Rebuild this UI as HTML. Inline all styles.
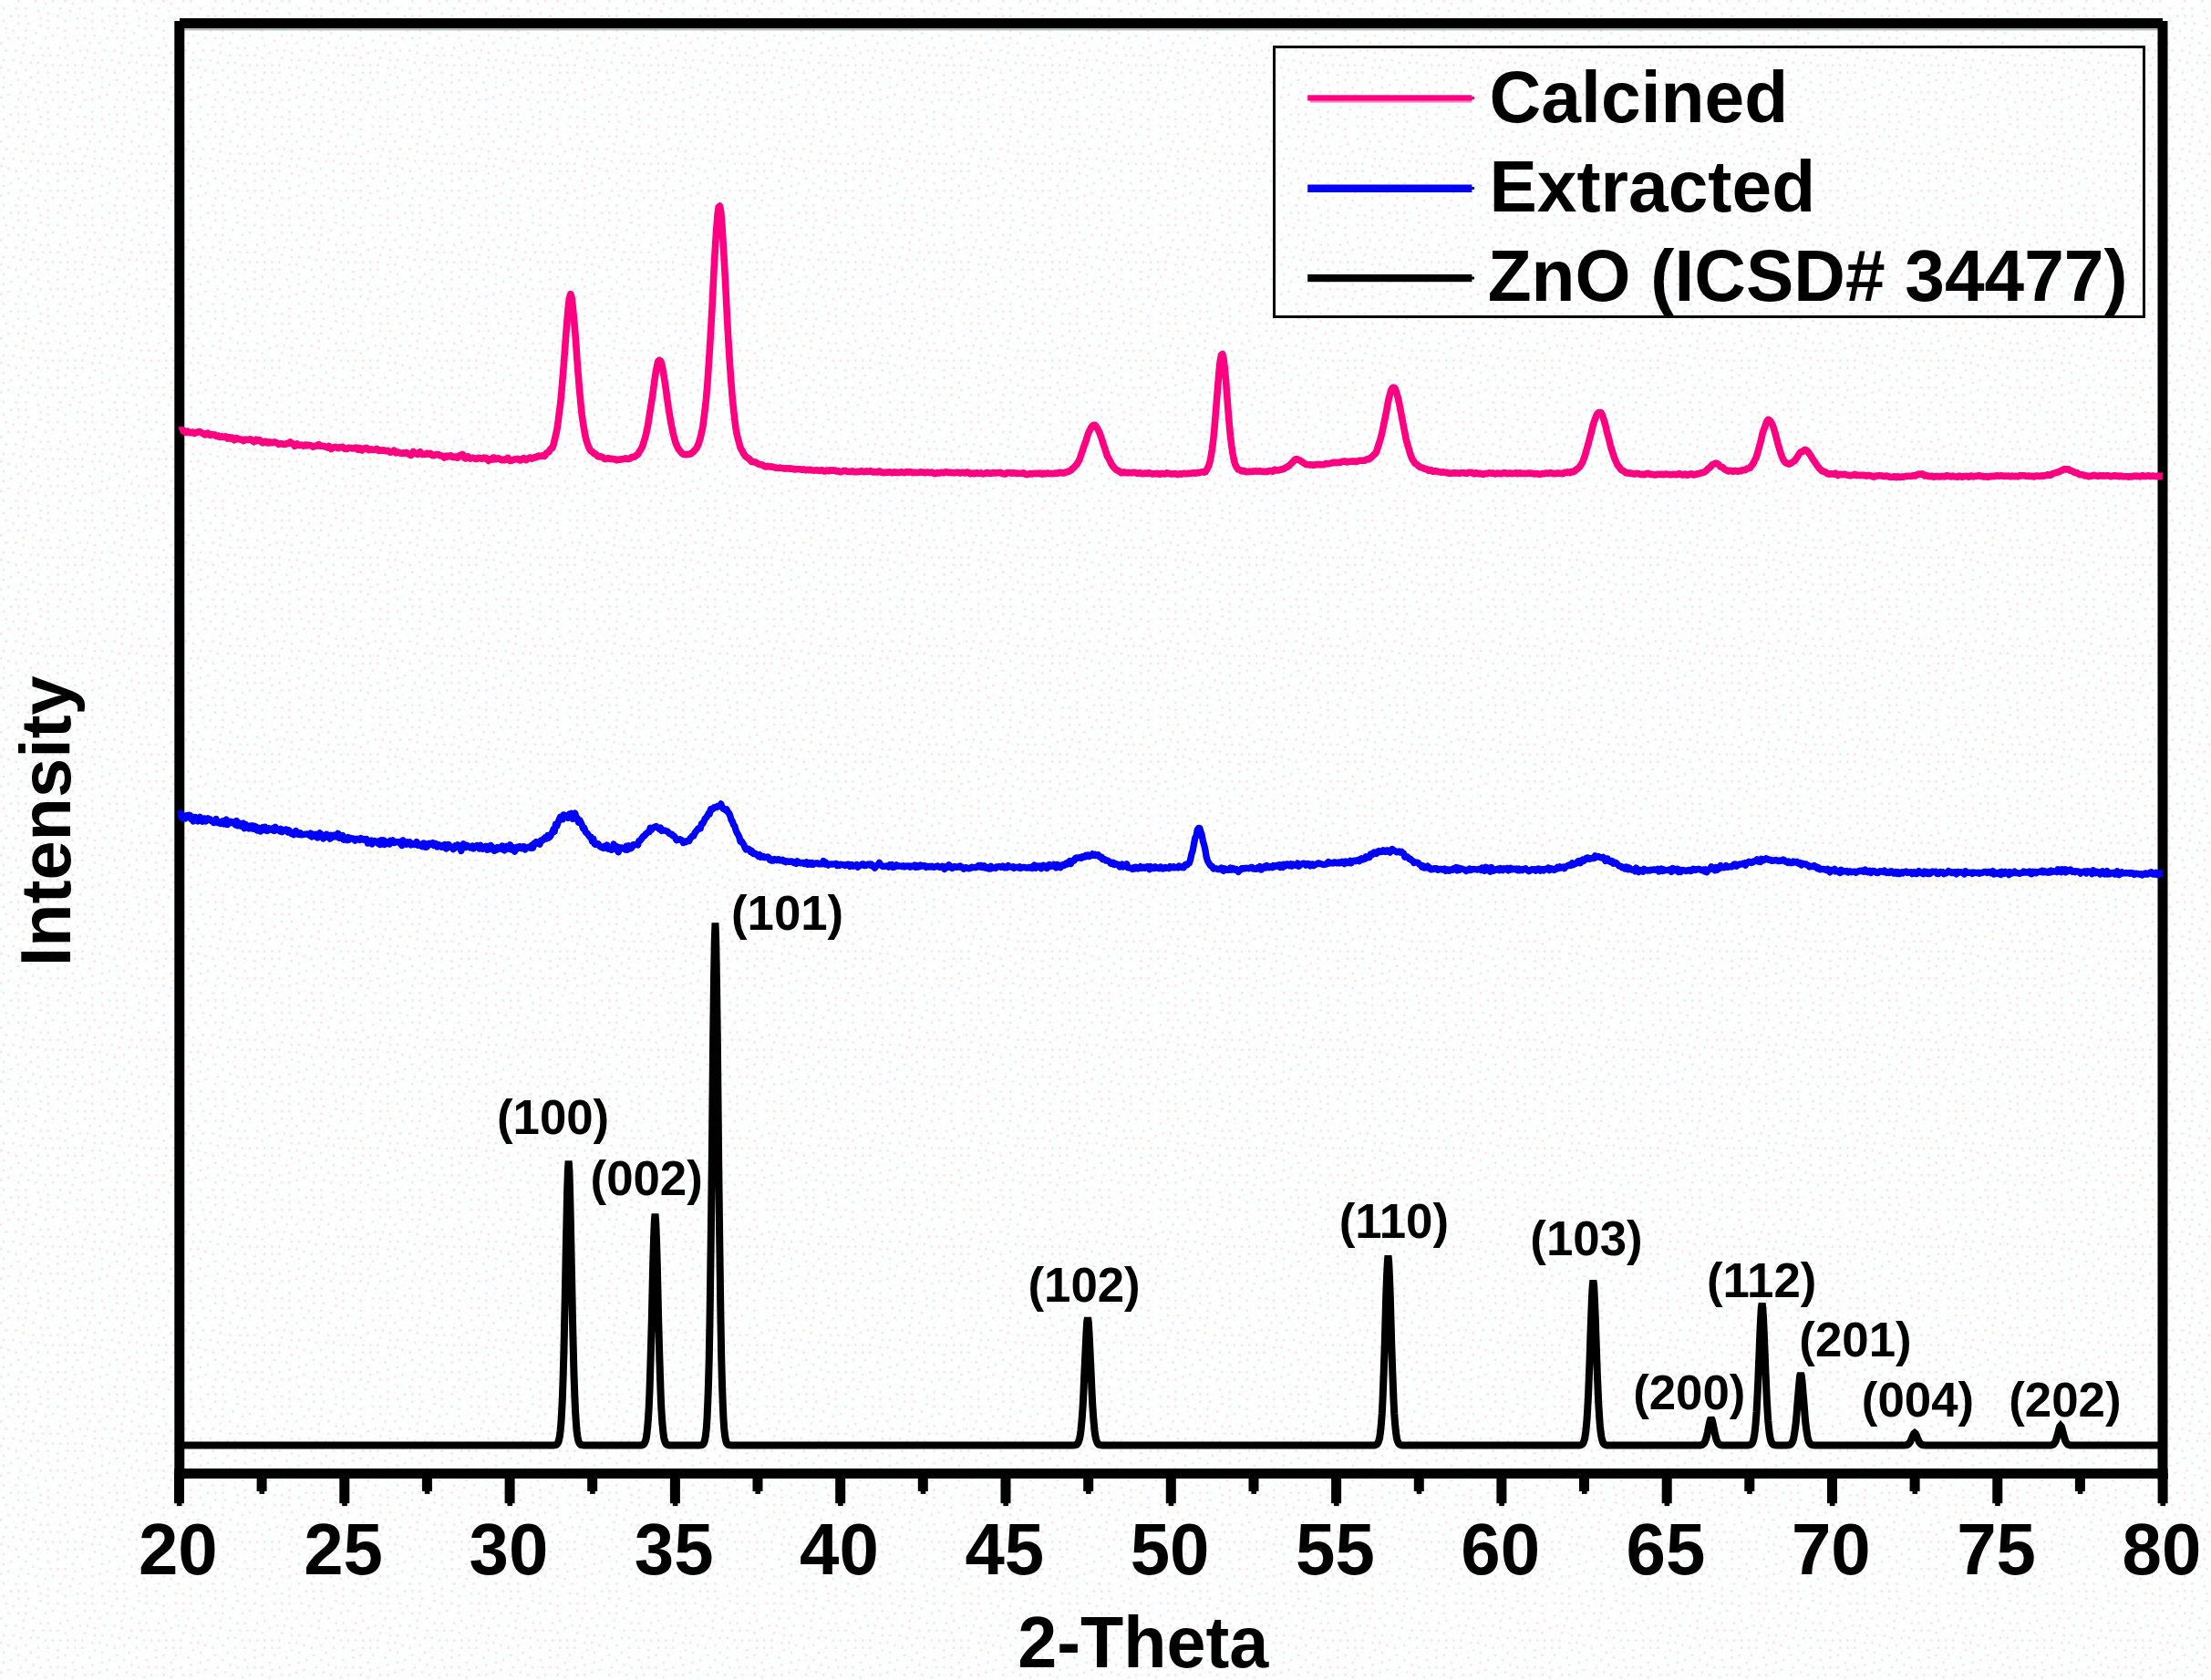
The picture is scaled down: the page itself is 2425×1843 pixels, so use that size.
<!DOCTYPE html>
<html lang="en">
<head>
<meta charset="utf-8">
<title>XRD patterns: Calcined, Extracted, ZnO (ICSD# 34477)</title>
<style>
html,body{margin:0;padding:0;background:#ffffff;}
body{width:2425px;height:1843px;overflow:hidden;}
svg{display:block;}
svg text{font-family:"Liberation Sans",sans-serif;font-weight:700;fill:#000;}
.tick text{font-size:80px;text-anchor:middle;}
.hkl text{font-size:52.8px;text-anchor:middle;}
.legend text{font-size:79.5px;}
.axis-title{font-size:77.6px;text-anchor:middle;}
.curve{fill:none;stroke-linejoin:round;stroke-linecap:butt;}
</style>
</head>
<body>
<svg width="2425" height="1843" viewBox="0 0 2425 1843">
<defs><pattern id="dither" width="108" height="108" patternUnits="userSpaceOnUse"><rect x="86.4" y="8.1" width="2.7" height="2.7" fill="#ffe4e4"/><rect x="18.9" y="24.3" width="2.7" height="2.7" fill="#ffe4e4"/><rect x="18.9" y="86.4" width="2.7" height="2.7" fill="#ffe4e4"/><rect x="91.8" y="62.1" width="2.7" height="2.7" fill="#ffe4e4"/><rect x="2.7" y="8.1" width="2.7" height="2.7" fill="#ffe4e4"/><rect x="35.1" y="45.9" width="2.7" height="2.7" fill="#ffe4e4"/><rect x="64.8" y="51.3" width="2.7" height="2.7" fill="#ffe4e4"/><rect x="27.0" y="16.2" width="2.7" height="2.7" fill="#ffe4e4"/><rect x="72.9" y="78.3" width="2.7" height="2.7" fill="#ffe4e4"/><rect x="48.6" y="40.5" width="2.7" height="2.7" fill="#ffe4e4"/><rect x="94.5" y="54.0" width="2.7" height="2.7" fill="#ffe4e4"/><rect x="70.2" y="62.1" width="2.7" height="2.7" fill="#ffe4e4"/><rect x="16.2" y="78.3" width="2.7" height="2.7" fill="#ffe4e4"/><rect x="81.0" y="102.6" width="2.7" height="2.7" fill="#ffe4e4"/><rect x="83.7" y="29.7" width="2.7" height="2.7" fill="#ffe4e4"/><rect x="32.4" y="67.5" width="2.7" height="2.7" fill="#ffe4e4"/><rect x="91.8" y="29.7" width="2.7" height="2.7" fill="#ffe4e4"/><rect x="99.9" y="0.0" width="2.7" height="2.7" fill="#ffe4e4"/><rect x="8.1" y="102.6" width="2.7" height="2.7" fill="#ffe4e4"/><rect x="99.9" y="29.7" width="2.7" height="2.7" fill="#ffe4e4"/><rect x="13.5" y="32.4" width="2.7" height="2.7" fill="#ffe4e4"/><rect x="2.7" y="94.5" width="2.7" height="2.7" fill="#ffe4e4"/><rect x="24.3" y="48.6" width="2.7" height="2.7" fill="#ffe4e4"/><rect x="48.6" y="2.7" width="2.7" height="2.7" fill="#ffe4e4"/><rect x="27.0" y="75.6" width="2.7" height="2.7" fill="#ffe4e4"/><rect x="27.0" y="8.1" width="2.7" height="2.7" fill="#ffe4e4"/><rect x="64.8" y="70.2" width="2.7" height="2.7" fill="#ffe4e4"/><rect x="54.0" y="99.9" width="2.7" height="2.7" fill="#ffe4e4"/><rect x="99.9" y="21.6" width="2.7" height="2.7" fill="#ffe4e4"/><rect x="51.3" y="78.3" width="2.7" height="2.7" fill="#ffe4e4"/><rect x="70.2" y="21.6" width="2.7" height="2.7" fill="#ffe4e4"/><rect x="40.5" y="89.1" width="2.7" height="2.7" fill="#ffe4e4"/><rect x="89.1" y="70.2" width="2.7" height="2.7" fill="#ffe4e4"/><rect x="0.0" y="72.9" width="2.7" height="2.7" fill="#ffe4e4"/><rect x="97.2" y="45.9" width="2.7" height="2.7" fill="#ffe4e4"/><rect x="102.6" y="81.0" width="2.7" height="2.7" fill="#ffe4e4"/><rect x="40.5" y="10.8" width="2.7" height="2.7" fill="#ffe4e4"/><rect x="62.1" y="89.1" width="2.7" height="2.7" fill="#ffe4e4"/><rect x="70.2" y="40.5" width="2.7" height="2.7" fill="#ffe4e4"/><rect x="54.0" y="59.4" width="2.7" height="2.7" fill="#ffe4e4"/><rect x="13.5" y="64.8" width="2.7" height="2.7" fill="#ffe4e4"/><rect x="83.7" y="18.9" width="2.7" height="2.7" fill="#ffe4e4"/><rect x="35.1" y="59.4" width="2.7" height="2.7" fill="#ffe4e4"/><rect x="99.9" y="97.2" width="2.7" height="2.7" fill="#ffe4e4"/><rect x="51.3" y="21.6" width="2.7" height="2.7" fill="#ffe4e4"/><rect x="27.0" y="91.8" width="2.7" height="2.7" fill="#ffe4e4"/><rect x="62.1" y="16.2" width="2.7" height="2.7" fill="#ffe4e4"/><rect x="102.6" y="64.8" width="2.7" height="2.7" fill="#ffe4e4"/><rect x="56.7" y="37.8" width="2.7" height="2.7" fill="#ffe4e4"/><rect x="51.3" y="13.5" width="2.7" height="2.7" fill="#ffe4e4"/><rect x="5.4" y="29.7" width="2.7" height="2.7" fill="#ffe4e4"/><rect x="43.2" y="51.3" width="2.7" height="2.7" fill="#ffe4e4"/><rect x="2.7" y="21.6" width="2.7" height="2.7" fill="#ffe4e4"/><rect x="78.3" y="56.7" width="2.7" height="2.7" fill="#ffe4e4"/><rect x="5.4" y="54.0" width="2.7" height="2.7" fill="#ffe4e4"/><rect x="102.6" y="56.7" width="2.7" height="2.7" fill="#ffe4e4"/><rect x="70.2" y="0.0" width="2.7" height="2.7" fill="#ffe4e4"/><rect x="8.1" y="40.5" width="2.7" height="2.7" fill="#ffe4e4"/><rect x="51.3" y="51.3" width="2.7" height="2.7" fill="#ffe4e4"/><rect x="89.1" y="78.3" width="2.7" height="2.7" fill="#ffe4e4"/><rect x="43.2" y="27.0" width="2.7" height="2.7" fill="#ffe4e4"/><rect x="75.6" y="10.8" width="2.7" height="2.7" fill="#ffe4e4"/><rect x="10.8" y="16.2" width="2.7" height="2.7" fill="#ffe4e4"/><rect x="89.1" y="99.9" width="2.7" height="2.7" fill="#ffe4e4"/><rect x="37.8" y="35.1" width="2.7" height="2.7" fill="#ffe4e4"/><rect x="29.7" y="24.3" width="2.7" height="2.7" fill="#ffe4e4"/><rect x="70.2" y="99.9" width="2.7" height="2.7" fill="#ffe4e4"/><rect x="99.9" y="13.5" width="2.7" height="2.7" fill="#ffe4e4"/><rect x="83.7" y="43.2" width="2.7" height="2.7" fill="#ffe4e4"/><rect x="37.8" y="0.0" width="2.7" height="2.7" fill="#ffe4e4"/><rect x="97.2" y="89.1" width="2.7" height="2.7" fill="#ffe4e4"/><rect x="91.8" y="37.8" width="2.7" height="2.7" fill="#ffe4e4"/><rect x="2.7" y="83.7" width="2.7" height="2.7" fill="#ffe4e4"/><rect x="10.8" y="91.8" width="2.7" height="2.7" fill="#ffe4e4"/><rect x="48.6" y="70.2" width="2.7" height="2.7" fill="#ffe4e4"/><rect x="24.3" y="56.7" width="2.7" height="2.7" fill="#ffe4e4"/><rect x="51.3" y="91.8" width="2.7" height="2.7" fill="#ffe4e4"/><rect x="40.5" y="67.5" width="2.7" height="2.7" fill="#ffe4e4"/><rect x="81.0" y="70.2" width="2.7" height="2.7" fill="#ffe4e4"/><rect x="56.7" y="0.0" width="2.7" height="2.7" fill="#ffe4e4"/><rect x="70.2" y="86.4" width="2.7" height="2.7" fill="#ffe4e4"/><rect x="62.1" y="29.7" width="2.7" height="2.7" fill="#ffe4e4"/><rect x="102.6" y="37.8" width="2.7" height="2.7" fill="#ffe4e4"/><rect x="18.9" y="0.0" width="2.7" height="2.7" fill="#ffe4e4"/><rect x="43.2" y="18.9" width="2.7" height="2.7" fill="#ffe4e4"/><rect x="83.7" y="86.4" width="2.7" height="2.7" fill="#ffe4e4"/><rect x="21.6" y="99.9" width="2.7" height="2.7" fill="#ffe4e4"/><rect x="91.8" y="18.9" width="2.7" height="2.7" fill="#ffe4e4"/><rect x="43.2" y="99.9" width="2.7" height="2.7" fill="#ffe4e4"/><rect x="2.7" y="64.8" width="2.7" height="2.7" fill="#ffe4e4"/><rect x="62.1" y="81.0" width="2.7" height="2.7" fill="#ffe4e4"/><rect x="16.2" y="8.1" width="2.7" height="2.7" fill="#ffe4e4"/><rect x="16.2" y="54.0" width="2.7" height="2.7" fill="#ffe4e4"/><rect x="8.1" y="75.6" width="2.7" height="2.7" fill="#ffe4e4"/><rect x="78.3" y="94.5" width="2.7" height="2.7" fill="#ffe4e4"/><rect x="29.7" y="105.3" width="2.7" height="2.7" fill="#ffe4e4"/><rect x="18.9" y="40.5" width="2.7" height="2.7" fill="#ffe4e4"/><rect x="27.0" y="32.4" width="2.7" height="2.7" fill="#ffe4e4"/><rect x="40.5" y="78.3" width="2.7" height="2.7" fill="#ffe4e4"/><rect x="0.0" y="105.3" width="2.7" height="2.7" fill="#ffe4e4"/><rect x="0.0" y="45.9" width="2.7" height="2.7" fill="#ffe4e4"/><rect x="70.2" y="32.4" width="2.7" height="2.7" fill="#ffe4e4"/><rect x="64.8" y="8.1" width="2.7" height="2.7" fill="#ffe4e4"/><rect x="21.6" y="67.5" width="2.7" height="2.7" fill="#ffe4e4"/><rect x="81.0" y="78.3" width="2.7" height="2.7" fill="#ffe4e4"/><rect x="72.9" y="48.6" width="2.7" height="2.7" fill="#ffe4e4"/><rect x="78.3" y="2.7" width="2.7" height="2.7" fill="#ffe4e4"/><rect x="45.9" y="59.4" width="2.7" height="2.7" fill="#ffe4e4"/><rect x="62.1" y="99.9" width="2.7" height="2.7" fill="#ffe4e4"/><rect x="86.4" y="54.0" width="2.7" height="2.7" fill="#ffe4e4"/><rect x="32.4" y="83.7" width="2.7" height="2.7" fill="#ffe4e4"/><rect x="27.0" y="40.5" width="2.7" height="2.7" fill="#ffe4e4"/><rect x="99.9" y="72.9" width="2.7" height="2.7" fill="#ffe4e4"/><rect x="91.8" y="0.0" width="2.7" height="2.7" fill="#ffe4e4"/><rect x="51.3" y="29.7" width="2.7" height="2.7" fill="#ffe4e4"/><rect x="62.1" y="59.4" width="2.7" height="2.7" fill="#ffe4e4"/><rect x="56.7" y="70.2" width="2.7" height="2.7" fill="#ffe4e4"/><rect x="35.1" y="97.2" width="2.7" height="2.7" fill="#ffe4e4"/><rect x="72.9" y="70.2" width="2.7" height="2.7" fill="#ffe4e4"/><rect x="18.9" y="16.2" width="2.7" height="2.7" fill="#ffe4e4"/><rect x="0.0" y="13.5" width="2.7" height="2.7" fill="#f1ffff"/><rect x="37.8" y="83.7" width="2.7" height="2.7" fill="#f1ffff"/><rect x="86.4" y="35.1" width="2.7" height="2.7" fill="#f1ffff"/><rect x="102.6" y="51.3" width="2.7" height="2.7" fill="#f1ffff"/><rect x="16.2" y="13.5" width="2.7" height="2.7" fill="#f1ffff"/><rect x="62.1" y="0.0" width="2.7" height="2.7" fill="#f1ffff"/><rect x="21.6" y="97.2" width="2.7" height="2.7" fill="#f1ffff"/><rect x="97.2" y="10.8" width="2.7" height="2.7" fill="#f1ffff"/><rect x="32.4" y="105.3" width="2.7" height="2.7" fill="#f1ffff"/><rect x="56.7" y="21.6" width="2.7" height="2.7" fill="#f1ffff"/><rect x="43.2" y="48.6" width="2.7" height="2.7" fill="#f1ffff"/><rect x="13.5" y="35.1" width="2.7" height="2.7" fill="#f1ffff"/><rect x="18.9" y="67.5" width="2.7" height="2.7" fill="#f1ffff"/><rect x="29.7" y="75.6" width="2.7" height="2.7" fill="#f1ffff"/><rect x="62.1" y="27.0" width="2.7" height="2.7" fill="#f1ffff"/><rect x="102.6" y="91.8" width="2.7" height="2.7" fill="#f1ffff"/><rect x="86.4" y="13.5" width="2.7" height="2.7" fill="#f1ffff"/><rect x="59.4" y="64.8" width="2.7" height="2.7" fill="#f1ffff"/><rect x="27.0" y="21.6" width="2.7" height="2.7" fill="#f1ffff"/><rect x="10.8" y="21.6" width="2.7" height="2.7" fill="#f1ffff"/><rect x="99.9" y="24.3" width="2.7" height="2.7" fill="#f1ffff"/><rect x="81.0" y="27.0" width="2.7" height="2.7" fill="#f1ffff"/><rect x="97.2" y="48.6" width="2.7" height="2.7" fill="#f1ffff"/><rect x="51.3" y="67.5" width="2.7" height="2.7" fill="#f1ffff"/><rect x="24.3" y="40.5" width="2.7" height="2.7" fill="#f1ffff"/><rect x="27.0" y="13.5" width="2.7" height="2.7" fill="#f1ffff"/><rect x="18.9" y="43.2" width="2.7" height="2.7" fill="#f1ffff"/><rect x="72.9" y="64.8" width="2.7" height="2.7" fill="#f1ffff"/><rect x="37.8" y="10.8" width="2.7" height="2.7" fill="#f1ffff"/><rect x="72.9" y="105.3" width="2.7" height="2.7" fill="#f1ffff"/><rect x="40.5" y="35.1" width="2.7" height="2.7" fill="#f1ffff"/><rect x="43.2" y="16.2" width="2.7" height="2.7" fill="#f1ffff"/><rect x="13.5" y="105.3" width="2.7" height="2.7" fill="#f1ffff"/><rect x="94.5" y="32.4" width="2.7" height="2.7" fill="#f1ffff"/><rect x="43.2" y="59.4" width="2.7" height="2.7" fill="#f1ffff"/><rect x="0.0" y="78.3" width="2.7" height="2.7" fill="#f1ffff"/><rect x="72.9" y="29.7" width="2.7" height="2.7" fill="#f1ffff"/><rect x="0.0" y="102.6" width="2.7" height="2.7" fill="#f1ffff"/><rect x="40.5" y="75.6" width="2.7" height="2.7" fill="#f1ffff"/><rect x="86.4" y="94.5" width="2.7" height="2.7" fill="#f1ffff"/><rect x="21.6" y="78.3" width="2.7" height="2.7" fill="#f1ffff"/><rect x="94.5" y="94.5" width="2.7" height="2.7" fill="#f1ffff"/><rect x="105.3" y="29.7" width="2.7" height="2.7" fill="#f1ffff"/><rect x="89.1" y="43.2" width="2.7" height="2.7" fill="#f1ffff"/><rect x="18.9" y="8.1" width="2.7" height="2.7" fill="#f1ffff"/><rect x="67.5" y="70.2" width="2.7" height="2.7" fill="#f1ffff"/><rect x="70.2" y="78.3" width="2.7" height="2.7" fill="#f1ffff"/><rect x="102.6" y="105.3" width="2.7" height="2.7" fill="#f1ffff"/><rect x="102.6" y="67.5" width="2.7" height="2.7" fill="#f1ffff"/><rect x="48.6" y="29.7" width="2.7" height="2.7" fill="#f1ffff"/><rect x="75.6" y="59.4" width="2.7" height="2.7" fill="#f1ffff"/><rect x="13.5" y="27.0" width="2.7" height="2.7" fill="#f1ffff"/><rect x="35.1" y="32.4" width="2.7" height="2.7" fill="#f1ffff"/><rect x="56.7" y="102.6" width="2.7" height="2.7" fill="#f1ffff"/><rect x="10.8" y="43.2" width="2.7" height="2.7" fill="#f1ffff"/><rect x="29.7" y="51.3" width="2.7" height="2.7" fill="#f1ffff"/><rect x="10.8" y="89.1" width="2.7" height="2.7" fill="#f1ffff"/><rect x="29.7" y="8.1" width="2.7" height="2.7" fill="#f1ffff"/><rect x="72.9" y="94.5" width="2.7" height="2.7" fill="#f1ffff"/><rect x="51.3" y="83.7" width="2.7" height="2.7" fill="#f1ffff"/><rect x="75.6" y="72.9" width="2.7" height="2.7" fill="#f1ffff"/><rect x="54.0" y="94.5" width="2.7" height="2.7" fill="#f1ffff"/><rect x="75.6" y="35.1" width="2.7" height="2.7" fill="#f1ffff"/><rect x="18.9" y="54.0" width="2.7" height="2.7" fill="#f1ffff"/><rect x="2.7" y="62.1" width="2.7" height="2.7" fill="#f1ffff"/><rect x="8.1" y="5.4" width="2.7" height="2.7" fill="#f1ffff"/><rect x="45.9" y="72.9" width="2.7" height="2.7" fill="#f1ffff"/><rect x="37.8" y="51.3" width="2.7" height="2.7" fill="#f1ffff"/><rect x="94.5" y="72.9" width="2.7" height="2.7" fill="#f1ffff"/><rect x="27.0" y="29.7" width="2.7" height="2.7" fill="#f1ffff"/><rect x="0.0" y="37.8" width="2.7" height="2.7" fill="#f1ffff"/><rect x="86.4" y="59.4" width="2.7" height="2.7" fill="#f1ffff"/><rect x="21.6" y="32.4" width="2.7" height="2.7" fill="#f1ffff"/><rect x="99.9" y="16.2" width="2.7" height="2.7" fill="#f1ffff"/><rect x="86.4" y="78.3" width="2.7" height="2.7" fill="#f1ffff"/><rect x="64.8" y="18.9" width="2.7" height="2.7" fill="#f1ffff"/><rect x="67.5" y="40.5" width="2.7" height="2.7" fill="#f1ffff"/><rect x="35.1" y="21.6" width="2.7" height="2.7" fill="#f1ffff"/><rect x="8.1" y="54.0" width="2.7" height="2.7" fill="#f1ffff"/><rect x="35.1" y="72.9" width="2.7" height="2.7" fill="#f1ffff"/><rect x="105.3" y="59.4" width="2.7" height="2.7" fill="#f1ffff"/><rect x="91.8" y="99.9" width="2.7" height="2.7" fill="#f1ffff"/><rect x="29.7" y="59.4" width="2.7" height="2.7" fill="#f1ffff"/><rect x="5.4" y="35.1" width="2.7" height="2.7" fill="#f1ffff"/><rect x="40.5" y="105.3" width="2.7" height="2.7" fill="#f1ffff"/><rect x="51.3" y="75.6" width="2.7" height="2.7" fill="#f1ffff"/><rect x="56.7" y="86.4" width="2.7" height="2.7" fill="#f1ffff"/><rect x="16.2" y="86.4" width="2.7" height="2.7" fill="#f1ffff"/><rect x="89.1" y="24.3" width="2.7" height="2.7" fill="#f1ffff"/><rect x="2.7" y="43.2" width="2.7" height="2.7" fill="#f1ffff"/><rect x="59.4" y="48.6" width="2.7" height="2.7" fill="#f1ffff"/><rect x="27.0" y="64.8" width="2.7" height="2.7" fill="#f1ffff"/><rect x="32.4" y="37.8" width="2.7" height="2.7" fill="#f1ffff"/><rect x="51.3" y="5.4" width="2.7" height="2.7" fill="#f1ffff"/><rect x="54.0" y="56.7" width="2.7" height="2.7" fill="#f1ffff"/><rect x="62.1" y="94.5" width="2.7" height="2.7" fill="#f1ffff"/><rect x="83.7" y="8.1" width="2.7" height="2.7" fill="#f1ffff"/><rect x="75.6" y="81.0" width="2.7" height="2.7" fill="#f1ffff"/><rect x="48.6" y="54.0" width="2.7" height="2.7" fill="#f1ffff"/><rect x="102.6" y="40.5" width="2.7" height="2.7" fill="#f1ffff"/><rect x="89.1" y="64.8" width="2.7" height="2.7" fill="#f1ffff"/><rect x="97.2" y="83.7" width="2.7" height="2.7" fill="#f1ffff"/><rect x="81.0" y="37.8" width="2.7" height="2.7" fill="#f1ffff"/><rect x="2.7" y="51.3" width="2.7" height="2.7" fill="#f1ffff"/><rect x="89.1" y="2.7" width="2.7" height="2.7" fill="#f1ffff"/><rect x="62.1" y="8.1" width="2.7" height="2.7" fill="#f1ffff"/><rect x="99.9" y="2.7" width="2.7" height="2.7" fill="#f1ffff"/><rect x="27.0" y="81.0" width="2.7" height="2.7" fill="#f1ffff"/><rect x="75.6" y="21.6" width="2.7" height="2.7" fill="#f1ffff"/><rect x="59.4" y="81.0" width="2.7" height="2.7" fill="#f1ffff"/><rect x="67.5" y="54.0" width="2.7" height="2.7" fill="#f1ffff"/><rect x="83.7" y="70.2" width="2.7" height="2.7" fill="#f1ffff"/><rect x="105.3" y="45.9" width="2.7" height="2.7" fill="#f1ffff"/><rect x="35.1" y="64.8" width="2.7" height="2.7" fill="#f1ffff"/><rect x="35.1" y="94.5" width="2.7" height="2.7" fill="#f1ffff"/><rect x="40.5" y="97.2" width="2.7" height="2.7" fill="#f1ffff"/><rect x="35.1" y="43.2" width="2.7" height="2.7" fill="#f1ffff"/><rect x="18.9" y="18.9" width="2.7" height="2.7" fill="#f1ffff"/><rect x="83.7" y="21.6" width="2.7" height="2.7" fill="#f1ffff"/><rect x="5.4" y="24.3" width="2.7" height="2.7" fill="#f1ffff"/><rect x="102.6" y="75.6" width="2.7" height="2.7" fill="#f1ffff"/><rect x="94.5" y="56.7" width="2.7" height="2.7" fill="#f1ffff"/><rect x="21.6" y="2.7" width="2.7" height="2.7" fill="#f1ffff"/><rect x="97.2" y="37.8" width="2.7" height="2.7" fill="#f1ffff"/><rect x="72.9" y="45.9" width="2.7" height="2.7" fill="#f1ffff"/><rect x="54.0" y="35.1" width="2.7" height="2.7" fill="#f1ffff"/><rect x="5.4" y="72.9" width="2.7" height="2.7" fill="#f1ffff"/><rect x="40.5" y="5.4" width="2.7" height="2.7" fill="#f1ffff"/><rect x="27.0" y="94.5" width="2.7" height="2.7" fill="#f1ffff"/><rect x="10.8" y="78.3" width="2.7" height="2.7" fill="#f1ffff"/><rect x="70.2" y="89.1" width="2.7" height="2.7" fill="#f1ffff"/><rect x="105.3" y="18.9" width="2.7" height="2.7" fill="#f1ffff"/><rect x="0.0" y="5.4" width="2.7" height="2.7" fill="#f1ffff"/><rect x="83.7" y="102.6" width="2.7" height="2.7" fill="#f1ffff"/><rect x="45.9" y="8.1" width="2.7" height="2.7" fill="#f1ffff"/><rect x="2.7" y="89.1" width="2.7" height="2.7" fill="#f1ffff"/><rect x="67.5" y="2.7" width="2.7" height="2.7" fill="#f1ffff"/><rect x="78.3" y="5.4" width="2.7" height="2.7" fill="#f1ffff"/><rect x="59.4" y="37.8" width="2.7" height="2.7" fill="#f1ffff"/><rect x="10.8" y="59.4" width="2.7" height="2.7" fill="#f1ffff"/><rect x="48.6" y="37.8" width="2.7" height="2.7" fill="#f1ffff"/><rect x="89.1" y="83.7" width="2.7" height="2.7" fill="#f1ffff"/><rect x="40.5" y="27.0" width="2.7" height="2.7" fill="#f1ffff"/><rect x="91.8" y="51.3" width="2.7" height="2.7" fill="#f1ffff"/><rect x="81.0" y="91.8" width="2.7" height="2.7" fill="#f1ffff"/><rect x="43.2" y="89.1" width="2.7" height="2.7" fill="#f1ffff"/><rect x="8.1" y="16.2" width="2.7" height="2.7" fill="#f1ffff"/><rect x="29.7" y="99.9" width="2.7" height="2.7" fill="#f1ffff"/><rect x="94.5" y="0.0" width="2.7" height="2.7" fill="#f1ffff"/><rect x="8.1" y="94.5" width="2.7" height="2.7" fill="#f1ffff"/><rect x="16.2" y="75.6" width="2.7" height="2.7" fill="#f1ffff"/><rect x="83.7" y="54.0" width="2.7" height="2.7" fill="#f1ffff"/><rect x="99.9" y="62.1" width="2.7" height="2.7" fill="#f1ffff"/><rect x="45.9" y="43.2" width="2.7" height="2.7" fill="#f1ffff"/><rect x="43.2" y="81.0" width="2.7" height="2.7" fill="#f1ffff"/><rect x="81.0" y="83.7" width="2.7" height="2.7" fill="#f1ffff"/><rect x="45.9" y="64.8" width="2.7" height="2.7" fill="#f1ffff"/><rect x="21.6" y="48.6" width="2.7" height="2.7" fill="#f1ffff"/><rect x="67.5" y="99.9" width="2.7" height="2.7" fill="#f1ffff"/><rect x="5.4" y="105.3" width="2.7" height="2.7" fill="#f1ffff"/><rect x="72.9" y="16.2" width="2.7" height="2.7" fill="#f1ffff"/><rect x="5.4" y="83.7" width="2.7" height="2.7" fill="#f1ffff"/><rect x="24.3" y="105.3" width="2.7" height="2.7" fill="#f1ffff"/><rect x="64.8" y="59.4" width="2.7" height="2.7" fill="#f1ffff"/><rect x="32.4" y="16.2" width="2.7" height="2.7" fill="#f1ffff"/><rect x="56.7" y="13.5" width="2.7" height="2.7" fill="#f1ffff"/><rect x="18.9" y="102.6" width="2.7" height="2.7" fill="#f1ffff"/><rect x="56.7" y="43.2" width="2.7" height="2.7" fill="#f1ffff"/><rect x="70.2" y="24.3" width="2.7" height="2.7" fill="#f1ffff"/><rect x="78.3" y="67.5" width="2.7" height="2.7" fill="#f1ffff"/><rect x="51.3" y="16.2" width="2.7" height="2.7" fill="#f1ffff"/><rect x="97.2" y="102.6" width="2.7" height="2.7" fill="#f1ffff"/><rect x="56.7" y="72.9" width="2.7" height="2.7" fill="#f1ffff"/><rect x="67.5" y="83.7" width="2.7" height="2.7" fill="#f1ffff"/><rect x="81.0" y="75.6" width="2.7" height="2.7" fill="#f1ffff"/><rect x="10.8" y="10.8" width="2.7" height="2.7" fill="#f1ffff"/><rect x="75.6" y="51.3" width="2.7" height="2.7" fill="#f1ffff"/><rect x="51.3" y="105.3" width="2.7" height="2.7" fill="#f1ffff"/><rect x="18.9" y="91.8" width="2.7" height="2.7" fill="#f1ffff"/><rect x="81.0" y="16.2" width="2.7" height="2.7" fill="#f1ffff"/><rect x="72.9" y="8.1" width="2.7" height="2.7" fill="#f1ffff"/><rect x="54.0" y="27.0" width="2.7" height="2.7" fill="#f1ffff"/><rect x="78.3" y="97.2" width="2.7" height="2.7" fill="#f1ffff"/><rect x="0.0" y="70.2" width="2.7" height="2.7" fill="#f1ffff"/><rect x="8.1" y="29.7" width="2.7" height="2.7" fill="#f1ffff"/><rect x="81.0" y="0.0" width="2.7" height="2.7" fill="#f1ffff"/><rect x="81.0" y="45.9" width="2.7" height="2.7" fill="#f1ffff"/><rect x="10.8" y="70.2" width="2.7" height="2.7" fill="#f1ffff"/><rect x="21.6" y="24.3" width="2.7" height="2.7" fill="#f1ffff"/><rect x="13.5" y="48.6" width="2.7" height="2.7" fill="#f1ffff"/><rect x="29.7" y="86.4" width="2.7" height="2.7" fill="#f1ffff"/><rect x="56.7" y="2.7" width="2.7" height="2.7" fill="#f1ffff"/><rect x="24.3" y="70.2" width="2.7" height="2.7" fill="#f1ffff"/><rect x="67.5" y="32.4" width="2.7" height="2.7" fill="#f1ffff"/><rect x="48.6" y="21.6" width="2.7" height="2.7" fill="#f1ffff"/><rect x="48.6" y="99.9" width="2.7" height="2.7" fill="#f1ffff"/><rect x="27.0" y="45.9" width="2.7" height="2.7" fill="#f1ffff"/><rect x="105.3" y="86.4" width="2.7" height="2.7" fill="#f1ffff"/><rect x="0.0" y="94.5" width="2.7" height="2.7" fill="#f1ffff"/><rect x="67.5" y="13.5" width="2.7" height="2.7" fill="#f1ffff"/><rect x="21.6" y="62.1" width="2.7" height="2.7" fill="#f1ffff"/><rect x="48.6" y="91.8" width="2.7" height="2.7" fill="#f1ffff"/><rect x="51.3" y="45.9" width="2.7" height="2.7" fill="#f1ffff"/><rect x="102.6" y="8.1" width="2.7" height="2.7" fill="#f1ffff"/><rect x="91.8" y="8.1" width="2.7" height="2.7" fill="#f1ffff"/><rect x="35.1" y="2.7" width="2.7" height="2.7" fill="#f1ffff"/><rect x="62.1" y="75.6" width="2.7" height="2.7" fill="#f1ffff"/><rect x="8.1" y="64.8" width="2.7" height="2.7" fill="#f1ffff"/><rect x="45.9" y="0.0" width="2.7" height="2.7" fill="#f1ffff"/><rect x="86.4" y="48.6" width="2.7" height="2.7" fill="#f1ffff"/><rect x="64.8" y="45.9" width="2.7" height="2.7" fill="#f1ffff"/><rect x="10.8" y="99.9" width="2.7" height="2.7" fill="#f1ffff"/><rect x="94.5" y="21.6" width="2.7" height="2.7" fill="#f1ffff"/><rect x="91.8" y="89.1" width="2.7" height="2.7" fill="#f1ffff"/><rect x="24.3" y="89.1" width="2.7" height="2.7" fill="#f1ffff"/></pattern></defs>
<rect x="0" y="0" width="2425" height="1843" fill="#ffffff"/>
<rect x="0" y="0" width="2425" height="1843" fill="url(#dither)"/>

<!-- plot frame -->
<g fill="#000">
<rect x="197" y="31" width="2170" height="2.4" fill="#b3baba"/>
<rect x="197" y="20" width="2175" height="11"/>
<rect x="191.3" y="23" width="11" height="1600"/>
<rect x="2366.5" y="23" width="11" height="1600"/>
<rect x="191.3" y="1611" width="2186.2" height="11"/>
<rect x="191.0" y="1616" width="11" height="33.2"/>
<rect x="193.9" y="1648.9" width="5.6" height="3.2"/>
<rect x="281.6" y="1616" width="11" height="20.0"/>
<rect x="284.5" y="1635.7" width="5.6" height="3.2"/>
<rect x="372.3" y="1616" width="11" height="33.2"/>
<rect x="375.2" y="1648.9" width="5.6" height="3.2"/>
<rect x="462.9" y="1616" width="11" height="20.0"/>
<rect x="465.8" y="1635.7" width="5.6" height="3.2"/>
<rect x="553.6" y="1616" width="11" height="33.2"/>
<rect x="556.5" y="1648.9" width="5.6" height="3.2"/>
<rect x="644.2" y="1616" width="11" height="20.0"/>
<rect x="647.1" y="1635.7" width="5.6" height="3.2"/>
<rect x="734.9" y="1616" width="11" height="33.2"/>
<rect x="737.8" y="1648.9" width="5.6" height="3.2"/>
<rect x="825.5" y="1616" width="11" height="20.0"/>
<rect x="828.4" y="1635.7" width="5.6" height="3.2"/>
<rect x="916.2" y="1616" width="11" height="33.2"/>
<rect x="919.1" y="1648.9" width="5.6" height="3.2"/>
<rect x="1006.8" y="1616" width="11" height="20.0"/>
<rect x="1009.7" y="1635.7" width="5.6" height="3.2"/>
<rect x="1097.5" y="1616" width="11" height="33.2"/>
<rect x="1100.4" y="1648.9" width="5.6" height="3.2"/>
<rect x="1188.2" y="1616" width="11" height="20.0"/>
<rect x="1191.1" y="1635.7" width="5.6" height="3.2"/>
<rect x="1278.8" y="1616" width="11" height="33.2"/>
<rect x="1281.7" y="1648.9" width="5.6" height="3.2"/>
<rect x="1369.5" y="1616" width="11" height="20.0"/>
<rect x="1372.4" y="1635.7" width="5.6" height="3.2"/>
<rect x="1460.1" y="1616" width="11" height="33.2"/>
<rect x="1463.0" y="1648.9" width="5.6" height="3.2"/>
<rect x="1550.8" y="1616" width="11" height="20.0"/>
<rect x="1553.7" y="1635.7" width="5.6" height="3.2"/>
<rect x="1641.4" y="1616" width="11" height="33.2"/>
<rect x="1644.3" y="1648.9" width="5.6" height="3.2"/>
<rect x="1732.0" y="1616" width="11" height="20.0"/>
<rect x="1735.0" y="1635.7" width="5.6" height="3.2"/>
<rect x="1822.7" y="1616" width="11" height="33.2"/>
<rect x="1825.6" y="1648.9" width="5.6" height="3.2"/>
<rect x="1913.3" y="1616" width="11" height="20.0"/>
<rect x="1916.2" y="1635.7" width="5.6" height="3.2"/>
<rect x="2004.0" y="1616" width="11" height="33.2"/>
<rect x="2006.9" y="1648.9" width="5.6" height="3.2"/>
<rect x="2094.6" y="1616" width="11" height="20.0"/>
<rect x="2097.5" y="1635.7" width="5.6" height="3.2"/>
<rect x="2185.3" y="1616" width="11" height="33.2"/>
<rect x="2188.2" y="1648.9" width="5.6" height="3.2"/>
<rect x="2275.9" y="1616" width="11" height="20.0"/>
<rect x="2278.8" y="1635.7" width="5.6" height="3.2"/>
<rect x="2366.6" y="1616" width="11" height="33.2"/>
<rect x="2369.5" y="1648.9" width="5.6" height="3.2"/>
</g>

<!-- reference pattern, ZnO -->
<path class="curve" d="M197.0 1585.5L601.6 1585.5L602.6 1585.5L603.4 1585.5L604.1 1585.5L604.9 1585.5L605.6 1585.5L606.4 1585.5L607.1 1585.5L607.9 1585.4L608.6 1585.3L609.4 1585.2L610.1 1584.9L610.9 1584.3L611.6 1583.4L612.4 1581.9L613.1 1579.4L613.9 1575.6L614.6 1569.7L615.4 1561.2L616.1 1549.1L616.9 1532.8L617.6 1511.4L618.4 1484.8L619.1 1453.1L619.9 1417.2L620.6 1379.1L621.4 1341.6L622.1 1308.4L622.9 1283.9L623.6 1273.5L624.4 1283.9L625.1 1308.4L625.9 1341.6L626.6 1379.1L627.4 1417.2L628.1 1453.1L628.9 1484.8L629.6 1511.4L630.4 1532.8L631.1 1549.1L631.9 1561.2L632.6 1569.7L633.4 1575.6L634.1 1579.4L634.9 1581.9L635.6 1583.4L636.4 1584.3L637.1 1584.9L637.9 1585.2L638.6 1585.3L639.4 1585.4L640.1 1585.5L640.9 1585.5L641.6 1585.5L642.4 1585.5L643.1 1585.5L643.9 1585.5L644.6 1585.5L645.6 1585.5L696.5 1585.5L697.5 1585.5L698.2 1585.5L699.0 1585.5L699.8 1585.5L700.5 1585.5L701.2 1585.5L702.0 1585.5L702.8 1585.4L703.5 1585.4L704.2 1585.2L705.0 1585.0L705.8 1584.5L706.5 1583.8L707.2 1582.6L708.0 1580.5L708.8 1577.4L709.5 1572.6L710.2 1565.7L711.0 1555.9L711.8 1542.6L712.5 1525.2L713.2 1503.5L714.0 1477.7L714.8 1448.5L715.5 1417.4L716.2 1386.9L717.0 1359.9L717.8 1340.0L718.5 1331.5L719.2 1340.0L720.0 1359.9L720.8 1386.9L721.5 1417.4L722.2 1448.5L723.0 1477.7L723.8 1503.5L724.5 1525.2L725.2 1542.6L726.0 1555.9L726.8 1565.7L727.5 1572.6L728.2 1577.4L729.0 1580.5L729.8 1582.6L730.5 1583.8L731.2 1584.5L732.0 1585.0L732.8 1585.2L733.5 1585.4L734.2 1585.4L735.0 1585.5L735.8 1585.5L736.5 1585.5L737.2 1585.5L738.0 1585.5L738.8 1585.5L739.5 1585.5L740.5 1585.5L762.5 1585.5L763.5 1585.5L764.2 1585.5L765.0 1585.5L765.8 1585.5L766.5 1585.5L767.2 1585.5L768.0 1585.4L768.8 1585.3L769.5 1585.2L770.2 1584.9L771.0 1584.3L771.8 1583.3L772.5 1581.7L773.2 1578.9L774.0 1574.3L774.8 1567.2L775.5 1556.5L776.2 1540.8L777.0 1518.7L777.8 1488.7L778.5 1449.5L779.2 1400.6L780.0 1342.3L780.8 1276.4L781.5 1206.4L782.2 1137.5L783.0 1076.6L783.8 1031.7L784.5 1012.5L785.2 1031.7L786.0 1076.6L786.8 1137.5L787.5 1206.4L788.2 1276.4L789.0 1342.3L789.8 1400.6L790.5 1449.5L791.2 1488.7L792.0 1518.7L792.8 1540.8L793.5 1556.5L794.2 1567.2L795.0 1574.3L795.8 1578.9L796.5 1581.7L797.2 1583.3L798.0 1584.3L798.8 1584.9L799.5 1585.2L800.2 1585.3L801.0 1585.4L801.8 1585.5L802.5 1585.5L803.2 1585.5L804.0 1585.5L804.8 1585.5L805.5 1585.5L806.5 1585.5L1171.0 1585.5L1172.0 1585.5L1172.8 1585.5L1173.5 1585.5L1174.2 1585.5L1175.0 1585.5L1175.8 1585.5L1176.5 1585.5L1177.2 1585.5L1178.0 1585.4L1178.8 1585.3L1179.5 1585.2L1180.2 1585.0L1181.0 1584.6L1181.8 1583.9L1182.5 1582.8L1183.2 1581.0L1184.0 1578.4L1184.8 1574.6L1185.5 1569.2L1186.2 1561.8L1187.0 1552.3L1187.8 1540.3L1188.5 1526.1L1189.2 1510.0L1190.0 1492.9L1190.8 1476.0L1191.5 1461.2L1192.2 1450.2L1193.0 1445.5L1193.8 1450.2L1194.5 1461.2L1195.2 1476.0L1196.0 1492.9L1196.8 1510.0L1197.5 1526.1L1198.2 1540.3L1199.0 1552.3L1199.8 1561.8L1200.5 1569.2L1201.2 1574.6L1202.0 1578.4L1202.8 1581.0L1203.5 1582.8L1204.2 1583.9L1205.0 1584.6L1205.8 1585.0L1206.5 1585.2L1207.2 1585.3L1208.0 1585.4L1208.8 1585.5L1209.5 1585.5L1210.2 1585.5L1211.0 1585.5L1211.8 1585.5L1212.5 1585.5L1213.2 1585.5L1214.0 1585.5L1215.0 1585.5L1500.5 1585.5L1501.5 1585.5L1502.2 1585.5L1503.0 1585.5L1503.8 1585.5L1504.5 1585.5L1505.2 1585.5L1506.0 1585.5L1506.8 1585.4L1507.5 1585.4L1508.2 1585.3L1509.0 1585.1L1509.8 1584.7L1510.5 1584.1L1511.2 1583.1L1512.0 1581.4L1512.8 1578.9L1513.5 1575.0L1514.2 1569.3L1515.0 1561.2L1515.8 1550.3L1516.5 1536.1L1517.2 1518.4L1518.0 1497.2L1518.8 1473.3L1519.5 1447.9L1520.2 1422.9L1521.0 1400.8L1521.8 1384.5L1522.5 1377.5L1523.2 1384.5L1524.0 1400.8L1524.8 1422.9L1525.5 1447.9L1526.2 1473.3L1527.0 1497.2L1527.8 1518.4L1528.5 1536.1L1529.2 1550.3L1530.0 1561.2L1530.8 1569.3L1531.5 1575.0L1532.2 1578.9L1533.0 1581.4L1533.8 1583.1L1534.5 1584.1L1535.2 1584.7L1536.0 1585.1L1536.8 1585.3L1537.5 1585.4L1538.2 1585.4L1539.0 1585.5L1539.8 1585.5L1540.5 1585.5L1541.2 1585.5L1542.0 1585.5L1542.8 1585.5L1543.5 1585.5L1544.5 1585.5L1725.4 1585.5L1726.4 1585.5L1727.2 1585.5L1727.9 1585.5L1728.7 1585.5L1729.4 1585.5L1730.2 1585.5L1730.9 1585.5L1731.7 1585.4L1732.4 1585.4L1733.2 1585.3L1733.9 1585.1L1734.7 1584.8L1735.4 1584.3L1736.2 1583.4L1736.9 1582.0L1737.7 1579.7L1738.4 1576.3L1739.2 1571.4L1739.9 1564.4L1740.7 1554.9L1741.4 1542.5L1742.2 1527.1L1742.9 1508.7L1743.7 1487.9L1744.4 1465.7L1745.2 1444.0L1745.9 1424.7L1746.7 1410.6L1747.4 1404.5L1748.2 1410.6L1748.9 1424.7L1749.7 1444.0L1750.4 1465.7L1751.2 1487.9L1751.9 1508.7L1752.7 1527.1L1753.4 1542.5L1754.2 1554.9L1754.9 1564.4L1755.7 1571.4L1756.4 1576.3L1757.2 1579.7L1757.9 1582.0L1758.7 1583.4L1759.4 1584.3L1760.2 1584.8L1760.9 1585.1L1761.7 1585.3L1762.4 1585.4L1763.2 1585.4L1763.9 1585.5L1764.7 1585.5L1765.4 1585.5L1766.2 1585.5L1766.9 1585.5L1767.7 1585.5L1768.4 1585.5L1769.4 1585.5L1854.7 1585.5L1855.7 1585.5L1856.5 1585.5L1857.2 1585.5L1858.0 1585.5L1858.7 1585.5L1859.5 1585.5L1860.2 1585.5L1861.0 1585.5L1861.7 1585.5L1862.5 1585.5L1863.2 1585.5L1864.0 1585.4L1864.7 1585.4L1865.5 1585.3L1866.2 1585.1L1867.0 1584.9L1867.7 1584.5L1868.5 1583.8L1869.2 1582.9L1870.0 1581.5L1870.7 1579.7L1871.5 1577.3L1872.2 1574.3L1873.0 1570.8L1873.7 1567.1L1874.5 1563.3L1875.2 1559.9L1876.0 1557.3L1876.7 1556.2L1877.5 1557.3L1878.2 1559.9L1879.0 1563.3L1879.7 1567.1L1880.5 1570.8L1881.2 1574.3L1882.0 1577.3L1882.7 1579.7L1883.5 1581.5L1884.2 1582.9L1885.0 1583.8L1885.7 1584.5L1886.5 1584.9L1887.2 1585.1L1888.0 1585.3L1888.7 1585.4L1889.5 1585.4L1890.2 1585.5L1891.0 1585.5L1891.7 1585.5L1892.5 1585.5L1893.2 1585.5L1894.0 1585.5L1894.7 1585.5L1895.5 1585.5L1896.2 1585.5L1897.0 1585.5L1897.7 1585.5L1898.7 1585.5L1910.6 1585.5L1911.6 1585.5L1912.3 1585.5L1913.1 1585.5L1913.8 1585.5L1914.6 1585.5L1915.3 1585.5L1916.1 1585.5L1916.8 1585.5L1917.6 1585.4L1918.3 1585.3L1919.1 1585.2L1919.8 1584.9L1920.6 1584.5L1921.3 1583.7L1922.1 1582.5L1922.8 1580.5L1923.6 1577.6L1924.3 1573.3L1925.1 1567.3L1925.8 1559.1L1926.6 1548.5L1927.3 1535.1L1928.1 1519.3L1928.8 1501.3L1929.6 1482.3L1930.3 1463.5L1931.1 1446.9L1931.8 1434.7L1932.6 1429.5L1933.3 1434.7L1934.1 1446.9L1934.8 1463.5L1935.6 1482.3L1936.3 1501.3L1937.1 1519.3L1937.8 1535.1L1938.6 1548.5L1939.3 1559.1L1940.1 1567.3L1940.8 1573.3L1941.6 1577.6L1942.3 1580.5L1943.1 1582.5L1943.8 1583.7L1944.6 1584.5L1945.3 1584.9L1946.1 1585.2L1946.8 1585.3L1947.6 1585.4L1948.3 1585.5L1949.1 1585.5L1949.8 1585.5L1950.6 1585.5L1951.3 1585.5L1952.1 1585.5L1952.8 1585.5L1953.0 1585.5L1953.6 1585.5L1954.0 1585.5L1954.6 1585.5L1954.8 1585.5L1955.5 1585.5L1956.2 1585.5L1957.0 1585.5L1957.8 1585.5L1958.5 1585.5L1959.2 1585.5L1960.0 1585.5L1960.8 1585.4L1961.5 1585.3L1962.2 1585.2L1963.0 1585.0L1963.8 1584.6L1964.5 1584.0L1965.2 1583.0L1966.0 1581.5L1966.8 1579.3L1967.5 1576.3L1968.2 1572.1L1969.0 1566.7L1969.8 1560.0L1970.5 1552.0L1971.2 1542.9L1972.0 1533.2L1972.8 1523.7L1973.5 1515.3L1974.2 1509.1L1975.0 1506.5L1975.8 1509.1L1976.5 1515.3L1977.2 1523.7L1978.0 1533.2L1978.8 1542.9L1979.5 1552.0L1980.2 1560.0L1981.0 1566.7L1981.8 1572.1L1982.5 1576.3L1983.2 1579.3L1984.0 1581.5L1984.8 1583.0L1985.5 1584.0L1986.2 1584.6L1987.0 1585.0L1987.8 1585.2L1988.5 1585.3L1989.2 1585.4L1990.0 1585.5L1990.8 1585.5L1991.5 1585.5L1992.2 1585.5L1993.0 1585.5L1993.8 1585.5L1994.5 1585.5L1995.2 1585.5L1996.0 1585.5L1997.0 1585.5L2078.0 1585.5L2079.0 1585.5L2079.8 1585.5L2080.5 1585.5L2081.2 1585.5L2082.0 1585.5L2082.8 1585.5L2083.5 1585.5L2084.2 1585.5L2085.0 1585.5L2085.8 1585.5L2086.5 1585.5L2087.2 1585.5L2088.0 1585.5L2088.8 1585.5L2089.5 1585.4L2090.2 1585.3L2091.0 1585.2L2091.8 1585.0L2092.5 1584.6L2093.2 1584.1L2094.0 1583.3L2094.8 1582.3L2095.5 1581.0L2096.2 1579.3L2097.0 1577.5L2097.8 1575.6L2098.5 1573.9L2099.2 1572.6L2100.0 1572.0L2100.8 1572.6L2101.5 1573.9L2102.2 1575.6L2103.0 1577.5L2103.8 1579.3L2104.5 1581.0L2105.2 1582.3L2106.0 1583.3L2106.8 1584.1L2107.5 1584.6L2108.2 1585.0L2109.0 1585.2L2109.8 1585.3L2110.5 1585.4L2111.2 1585.5L2112.0 1585.5L2112.8 1585.5L2113.5 1585.5L2114.2 1585.5L2115.0 1585.5L2115.8 1585.5L2116.5 1585.5L2117.2 1585.5L2118.0 1585.5L2118.8 1585.5L2119.5 1585.5L2120.2 1585.5L2121.0 1585.5L2122.0 1585.5L2238.0 1585.5L2239.0 1585.5L2239.8 1585.5L2240.5 1585.5L2241.2 1585.5L2242.0 1585.5L2242.8 1585.5L2243.5 1585.5L2244.2 1585.5L2245.0 1585.5L2245.8 1585.5L2246.5 1585.5L2247.2 1585.5L2248.0 1585.5L2248.8 1585.4L2249.5 1585.4L2250.2 1585.2L2251.0 1585.0L2251.8 1584.7L2252.5 1584.1L2253.2 1583.3L2254.0 1582.1L2254.8 1580.4L2255.5 1578.3L2256.2 1575.7L2257.0 1572.8L2257.8 1569.8L2258.5 1567.1L2259.2 1565.0L2260.0 1564.1L2260.8 1565.0L2261.5 1567.1L2262.2 1569.8L2263.0 1572.8L2263.8 1575.7L2264.5 1578.3L2265.2 1580.4L2266.0 1582.1L2266.8 1583.3L2267.5 1584.1L2268.2 1584.7L2269.0 1585.0L2269.8 1585.2L2270.5 1585.4L2271.2 1585.4L2272.0 1585.5L2272.8 1585.5L2273.5 1585.5L2274.2 1585.5L2275.0 1585.5L2275.8 1585.5L2276.5 1585.5L2277.2 1585.5L2278.0 1585.5L2278.8 1585.5L2279.5 1585.5L2280.2 1585.5L2281.0 1585.5L2282.0 1585.5L2372.0 1585.5" stroke="#000" stroke-width="8" style="stroke-linejoin:miter;stroke-miterlimit:1.6"/>
<!-- extracted sample -->
<path class="curve" d="M197.0 893.8L198.2 892.3L199.5 897.3L200.8 897.4L202.0 897.1L203.2 897.9L204.5 894.7L205.8 896.1L207.0 894.2L208.2 894.4L209.5 898.5L210.8 896.0L212.0 901.0L213.2 897.6L214.5 896.6L215.8 899.2L217.0 901.0L218.2 899.0L219.5 896.4L220.8 899.2L222.0 901.1L223.2 898.2L224.5 897.9L225.8 901.0L227.0 899.8L228.2 897.9L229.5 899.3L230.8 898.9L232.0 900.8L233.2 900.7L234.5 902.6L235.8 902.0L237.0 898.5L238.2 901.9L239.5 902.9L240.8 902.4L242.0 903.5L243.2 901.1L244.5 900.6L245.8 903.9L247.0 900.8L248.2 899.2L249.5 904.6L250.8 901.9L252.0 902.8L253.2 901.2L254.5 901.5L255.8 902.0L257.0 903.5L258.2 904.9L259.5 900.6L260.8 905.9L262.0 902.9L263.2 903.3L264.5 906.3L265.8 905.3L267.0 903.1L268.2 908.8L269.5 904.6L270.8 906.6L272.0 906.7L273.2 908.9L274.5 906.0L275.8 908.6L277.0 905.9L278.2 909.2L279.5 906.3L280.8 907.1L282.0 911.0L283.2 908.6L284.5 908.4L285.8 912.1L287.0 909.2L288.2 907.5L289.5 910.2L290.8 907.2L292.0 911.2L293.2 911.5L294.5 908.7L295.8 908.8L297.0 910.3L298.2 910.2L299.5 908.7L300.8 911.5L302.0 907.3L303.2 910.1L304.5 910.3L305.8 910.7L307.0 911.8L308.2 909.4L309.5 912.6L310.8 911.4L312.0 910.8L313.2 909.8L314.5 910.2L315.8 912.9L317.0 910.9L318.2 912.7L319.5 914.5L320.8 914.6L322.0 915.6L323.2 912.7L324.5 911.5L325.8 915.1L327.0 914.1L328.2 915.5L329.5 913.8L330.8 915.9L332.0 915.5L333.2 915.4L334.5 915.2L335.8 915.1L337.0 915.0L338.2 915.1L339.5 916.5L340.8 914.1L342.0 918.0L343.2 915.1L344.5 917.0L345.8 915.4L347.0 915.2L348.2 919.1L349.5 915.4L350.8 913.9L352.0 915.0L353.2 915.8L354.5 920.0L355.8 916.9L357.0 918.2L358.2 915.2L359.5 917.5L360.8 918.2L362.0 920.2L363.2 916.2L364.5 918.5L365.8 918.1L367.0 916.1L368.2 917.9L369.5 917.6L370.8 914.4L372.0 919.3L373.2 919.4L374.5 917.9L375.8 916.5L377.0 921.3L378.2 919.5L379.5 920.9L380.8 921.7L382.0 918.6L383.2 920.9L384.5 919.4L385.8 919.8L387.0 919.9L388.2 920.2L389.5 922.1L390.8 920.7L392.0 920.3L393.2 920.3L394.5 921.4L395.8 919.5L397.0 920.3L398.2 921.2L399.5 920.5L400.8 921.3L402.0 920.6L403.2 925.1L404.5 924.1L405.8 922.8L407.0 922.1L408.2 925.9L409.5 922.9L410.8 922.4L412.0 923.1L413.2 923.3L414.5 925.2L415.8 922.9L417.0 926.6L418.2 921.7L419.5 924.4L420.8 921.8L422.0 926.5L423.2 923.1L424.5 923.6L425.8 925.4L427.0 926.0L428.2 922.2L429.5 923.6L430.8 921.9L432.0 924.6L433.2 924.3L434.5 924.0L435.8 923.5L437.0 924.1L438.2 923.6L439.5 925.8L440.8 927.5L442.0 921.9L443.2 925.0L444.5 924.6L445.8 926.2L447.0 923.9L448.2 925.3L449.5 923.9L450.8 926.9L452.0 926.0L453.2 925.6L454.5 926.6L455.8 925.7L457.0 923.6L458.2 927.2L459.5 926.8L460.8 926.2L462.0 928.1L463.2 928.6L464.5 924.9L465.8 925.4L467.0 929.4L468.2 929.2L469.5 925.8L470.8 925.1L472.0 926.1L473.2 926.4L474.5 924.7L475.8 927.4L477.0 925.3L478.2 925.5L479.5 929.1L480.8 926.5L482.0 927.6L483.2 928.8L484.5 929.2L485.8 927.4L487.0 928.1L488.2 926.7L489.5 931.1L490.8 929.3L492.0 926.5L493.2 928.4L494.5 929.6L495.8 929.3L497.0 931.6L498.2 930.9L499.5 927.8L500.8 928.7L502.0 926.8L503.2 929.3L504.5 929.2L505.8 933.5L507.0 929.3L508.2 925.7L509.5 928.1L510.8 929.5L512.0 927.3L513.2 928.0L514.5 928.9L515.8 930.1L517.0 929.3L518.2 928.2L519.5 931.0L520.8 928.8L522.0 928.9L523.2 927.5L524.5 928.6L525.8 931.0L527.0 927.3L528.2 929.9L529.5 931.2L530.8 929.4L532.0 930.5L533.2 928.3L534.5 932.3L535.8 932.0L537.0 930.6L538.2 927.4L539.5 928.6L540.8 931.9L542.0 933.2L543.2 930.9L544.5 932.5L545.8 929.5L547.0 930.2L548.2 930.5L549.5 931.2L550.8 928.0L552.0 932.1L553.2 932.8L554.5 928.7L555.8 928.4L557.0 931.2L558.2 929.6L559.5 926.8L560.8 932.0L562.0 931.0L563.2 929.9L564.5 934.2L565.8 930.8L567.0 929.3L568.2 930.6L569.5 928.6L570.8 928.9L572.0 930.6L573.2 928.8L574.5 928.7L575.8 932.0L577.0 930.4L578.2 930.0L579.5 929.3L580.8 928.9L582.0 930.2L583.2 927.4L584.5 930.2L585.8 925.2L587.0 925.9L588.2 923.5L589.5 924.6L590.8 925.4L592.0 926.2L593.2 922.0L594.5 922.4L595.8 921.1L597.0 919.8L598.2 918.5L599.5 920.0L600.8 916.5L602.0 918.9L603.2 917.9L604.5 915.6L605.8 913.0L607.0 909.8L608.2 912.3L609.5 904.1L610.8 906.2L612.0 902.4L613.2 899.2L614.5 896.4L615.8 898.8L617.0 898.9L618.2 893.9L619.5 894.4L620.8 896.3L622.0 894.8L623.2 897.3L624.5 893.1L625.8 895.1L627.0 892.4L628.2 898.3L629.5 894.1L630.8 892.2L632.0 896.5L633.2 897.5L634.5 902.2L635.8 899.8L637.0 902.0L638.2 904.9L639.5 908.7L640.8 908.3L642.0 912.3L643.2 913.7L644.5 914.4L645.8 916.8L647.0 918.2L648.2 918.1L649.5 923.1L650.8 920.2L652.0 925.7L653.2 926.5L654.5 925.9L655.8 925.6L657.0 927.1L658.2 928.7L659.5 929.5L660.8 929.1L662.0 930.5L663.2 928.3L664.5 929.8L665.8 927.1L667.0 931.2L668.2 930.4L669.5 929.6L670.8 932.3L672.0 931.7L673.2 926.0L674.5 930.7L675.8 928.3L677.0 932.5L678.2 934.8L679.5 929.7L680.8 930.6L682.0 930.0L683.2 930.9L684.5 931.2L685.8 932.1L687.0 928.2L688.2 932.2L689.5 927.8L690.8 929.5L692.0 930.7L693.2 929.7L694.5 926.6L695.8 926.7L697.0 926.6L698.2 926.4L699.5 927.0L700.8 922.4L702.0 922.4L703.2 920.8L704.5 919.0L705.8 917.3L707.0 917.0L708.2 914.9L709.5 914.1L710.8 912.7L712.0 912.7L713.2 908.2L714.5 910.3L715.8 908.2L717.0 907.8L718.2 907.1L719.5 906.4L720.8 908.0L722.0 908.0L723.2 909.6L724.5 908.2L725.8 911.4L727.0 910.9L728.2 911.0L729.5 911.1L730.8 911.6L732.0 912.0L733.2 913.3L734.5 914.6L735.8 915.3L737.0 915.1L738.2 917.1L739.5 917.4L740.8 919.3L742.0 921.7L743.2 921.3L744.5 921.1L745.8 920.6L747.0 921.5L748.2 921.9L749.5 924.5L750.8 923.3L752.0 923.8L753.2 922.6L754.5 922.5L755.8 922.7L757.0 919.6L758.2 918.6L759.5 916.8L760.8 917.0L762.0 913.9L763.2 912.4L764.5 910.6L765.8 908.9L767.0 908.9L768.2 909.0L769.5 903.7L770.8 903.7L772.0 901.2L773.2 898.1L774.5 897.0L775.8 895.0L777.0 892.5L778.2 893.0L779.5 887.7L780.8 888.4L782.0 887.3L783.2 885.7L784.5 885.6L785.8 885.7L787.0 884.4L788.2 884.3L789.5 884.4L790.8 881.9L792.0 885.7L793.2 887.3L794.5 887.3L795.8 888.7L797.0 887.9L798.2 890.7L799.5 892.1L800.8 894.9L802.0 899.4L803.2 900.9L804.5 904.8L805.8 906.2L807.0 910.6L808.2 913.5L809.5 915.5L810.8 918.2L812.0 923.2L813.2 922.7L814.5 924.9L815.8 926.8L817.0 929.9L818.2 931.9L819.5 931.2L820.8 931.1L822.0 932.2L823.2 934.4L824.5 933.3L825.8 936.2L827.0 936.8L828.2 936.2L829.5 937.4L830.8 938.2L832.0 939.5L833.2 937.7L834.5 940.3L835.8 939.4L837.0 939.4L838.2 940.6L839.5 940.7L840.8 940.3L842.0 940.0L843.2 940.9L844.5 943.4L845.8 944.1L847.0 943.1L848.2 943.9L849.5 942.5L850.8 943.1L852.0 943.7L853.2 942.6L854.5 942.8L855.8 944.0L857.0 943.8L858.2 943.3L859.5 944.8L860.8 944.4L862.0 945.7L863.2 944.9L864.5 944.8L865.8 945.4L867.0 945.2L868.2 944.9L869.5 945.3L870.8 946.5L872.0 946.6L873.2 947.3L874.5 944.7L875.8 946.0L877.0 946.1L878.2 946.8L879.5 946.3L880.8 946.3L882.0 947.6L883.2 947.1L884.5 945.9L885.8 948.3L887.0 948.1L888.2 946.7L889.5 948.1L890.8 946.7L892.0 948.5L893.2 947.3L894.5 946.8L895.8 947.2L897.0 946.9L898.2 947.9L899.5 947.9L900.8 947.8L902.0 947.3L903.2 944.5L904.5 948.0L905.8 946.2L907.0 948.3L908.2 949.2L909.5 948.4L910.8 947.8L912.0 948.1L913.2 948.1L914.5 947.8L915.8 947.8L917.0 947.5L918.2 949.5L919.5 948.5L920.8 949.4L922.0 948.3L923.2 948.7L924.5 948.5L925.8 949.1L927.0 949.5L928.2 948.9L929.5 948.1L930.8 948.1L932.0 950.4L933.2 948.6L934.5 948.6L935.8 950.3L937.0 950.0L938.2 949.5L939.5 948.6L940.8 951.2L942.0 949.4L943.2 949.6L944.5 949.0L945.8 947.8L947.0 947.9L948.2 949.6L949.5 949.6L950.8 949.0L952.0 948.2L953.2 948.0L954.5 949.1L955.8 948.0L957.0 950.3L958.2 950.5L959.5 952.1L960.8 950.3L962.0 949.0L963.2 948.7L964.5 946.4L965.8 949.1L967.0 949.5L968.2 950.6L969.5 950.3L970.8 950.3L972.0 950.0L973.2 950.4L974.5 951.2L975.8 948.8L977.0 949.4L978.2 948.6L979.5 951.5L980.8 951.2L982.0 950.7L983.2 948.9L984.5 950.2L985.8 949.9L987.0 950.2L988.2 950.0L989.5 950.6L990.8 949.8L992.0 951.0L993.2 950.5L994.5 950.0L995.8 950.2L997.0 949.9L998.2 951.1L999.5 950.1L1000.8 950.7L1002.0 950.1L1003.2 949.1L1004.5 951.3L1005.8 949.5L1007.0 951.2L1008.2 951.0L1009.5 949.0L1010.8 949.7L1012.0 950.2L1013.2 949.9L1014.5 949.6L1015.8 951.4L1017.0 950.5L1018.2 951.1L1019.5 950.4L1020.8 951.1L1022.0 950.1L1023.2 950.8L1024.5 951.4L1025.8 950.9L1027.0 950.5L1028.2 949.9L1029.5 951.1L1030.8 951.3L1032.0 950.8L1033.2 950.3L1034.5 951.5L1035.8 953.4L1037.0 950.8L1038.2 951.4L1039.5 951.5L1040.8 948.7L1042.0 951.3L1043.2 950.5L1044.5 952.5L1045.8 951.0L1047.0 950.5L1048.2 951.0L1049.5 951.4L1050.8 950.7L1052.0 951.2L1053.2 950.0L1054.5 951.1L1055.8 952.0L1057.0 953.2L1058.2 952.0L1059.5 951.6L1060.8 952.5L1062.0 952.3L1063.2 952.9L1064.5 952.4L1065.8 951.3L1067.0 951.7L1068.2 951.6L1069.5 951.7L1070.8 951.6L1072.0 950.7L1073.2 949.5L1074.5 950.8L1075.8 949.6L1077.0 951.5L1078.2 951.5L1079.5 949.9L1080.8 952.1L1082.0 952.3L1083.2 951.6L1084.5 953.1L1085.8 953.2L1087.0 950.4L1088.2 952.5L1089.5 951.9L1090.8 951.9L1092.0 952.4L1093.2 950.8L1094.5 950.9L1095.8 950.7L1097.0 950.8L1098.2 951.4L1099.5 950.1L1100.8 950.5L1102.0 952.0L1103.2 951.4L1104.5 951.8L1105.8 949.7L1107.0 950.7L1108.2 950.9L1109.5 951.4L1110.8 950.8L1112.0 952.3L1113.2 951.3L1114.5 951.4L1115.8 951.4L1117.0 952.0L1118.2 950.9L1119.5 952.4L1120.8 951.7L1122.0 951.4L1123.2 951.3L1124.5 951.7L1125.8 952.2L1127.0 952.1L1128.2 951.5L1129.5 952.0L1130.8 951.2L1132.0 952.3L1133.2 951.0L1134.5 949.1L1135.8 952.3L1137.0 951.1L1138.2 949.9L1139.5 950.7L1140.8 950.1L1142.0 952.8L1143.2 951.3L1144.5 949.3L1145.8 951.3L1147.0 950.4L1148.2 952.5L1149.5 949.7L1150.8 948.5L1152.0 950.6L1153.2 950.2L1154.5 950.1L1155.8 948.4L1157.0 950.8L1158.2 951.9L1159.5 948.5L1160.8 951.2L1162.0 949.3L1163.2 951.7L1164.5 949.6L1165.8 948.6L1167.0 949.5L1168.2 948.5L1169.5 947.0L1170.8 947.9L1172.0 946.3L1173.2 944.6L1174.5 947.6L1175.8 944.7L1177.0 943.8L1178.2 944.0L1179.5 941.5L1180.8 941.0L1182.0 941.3L1183.2 940.7L1184.5 940.9L1185.8 941.5L1187.0 939.7L1188.2 940.4L1189.5 940.2L1190.8 938.3L1192.0 939.3L1193.2 938.0L1194.5 939.6L1195.8 938.9L1197.0 938.3L1198.2 936.9L1199.5 938.2L1200.8 937.3L1202.0 938.6L1203.2 938.0L1204.5 937.7L1205.8 940.0L1207.0 940.6L1208.2 940.2L1209.5 942.8L1210.8 942.3L1212.0 943.1L1213.2 944.2L1214.5 944.0L1215.8 944.7L1217.0 945.4L1218.2 947.4L1219.5 947.7L1220.8 946.4L1222.0 948.5L1223.2 947.3L1224.5 948.0L1225.8 948.8L1227.0 948.5L1228.2 950.9L1229.5 949.2L1230.8 948.2L1232.0 950.9L1233.2 949.7L1234.5 950.1L1235.8 947.9L1237.0 951.9L1238.2 952.0L1239.5 952.2L1240.8 952.6L1242.0 953.4L1243.2 951.8L1244.5 952.8L1245.8 951.2L1247.0 951.6L1248.2 953.0L1249.5 952.4L1250.8 950.7L1252.0 952.4L1253.2 951.9L1254.5 951.3L1255.8 952.4L1257.0 951.7L1258.2 950.6L1259.5 951.0L1260.8 953.7L1262.0 950.6L1263.2 952.3L1264.5 952.6L1265.8 952.7L1267.0 950.9L1268.2 951.7L1269.5 952.2L1270.8 952.8L1272.0 951.4L1273.2 950.9L1274.5 952.9L1275.8 953.0L1277.0 952.3L1278.2 951.4L1279.5 952.3L1280.8 952.0L1282.0 952.7L1283.2 950.7L1284.5 951.9L1285.8 951.6L1287.0 950.7L1288.2 951.9L1289.5 951.7L1290.8 951.2L1292.0 951.9L1293.2 950.1L1294.5 951.3L1295.8 951.6L1297.0 951.3L1298.2 951.7L1299.5 949.2L1300.8 948.2L1302.0 948.8L1303.2 947.4L1304.5 946.7L1305.8 942.2L1307.0 936.6L1308.2 933.1L1309.5 925.8L1310.8 919.1L1312.0 917.1L1313.2 910.4L1314.5 908.4L1315.8 908.6L1317.0 912.8L1318.2 916.3L1319.5 923.2L1320.8 927.3L1322.0 932.8L1323.2 940.4L1324.5 944.5L1325.8 946.6L1327.0 948.6L1328.2 950.0L1329.5 950.3L1330.8 953.0L1332.0 952.6L1333.2 952.8L1334.5 952.9L1335.8 953.7L1337.0 953.4L1338.2 953.7L1339.5 952.0L1340.8 953.7L1342.0 955.3L1343.2 952.8L1344.5 953.3L1345.8 954.3L1347.0 954.4L1348.2 954.1L1349.5 952.0L1350.8 954.1L1352.0 952.5L1353.2 952.9L1354.5 954.2L1355.8 953.4L1357.0 954.4L1358.2 956.5L1359.5 954.3L1360.8 954.2L1362.0 952.6L1363.2 952.8L1364.5 952.3L1365.8 952.8L1367.0 952.2L1368.2 952.5L1369.5 952.8L1370.8 952.0L1372.0 951.5L1373.2 951.5L1374.5 953.1L1375.8 952.6L1377.0 953.4L1378.2 953.3L1379.5 951.9L1380.8 952.8L1382.0 950.7L1383.2 954.1L1384.5 953.0L1385.8 951.5L1387.0 950.5L1388.2 951.9L1389.5 949.6L1390.8 950.5L1392.0 951.8L1393.2 951.0L1394.5 950.4L1395.8 951.6L1397.0 949.6L1398.2 950.7L1399.5 949.8L1400.8 949.3L1402.0 950.4L1403.2 948.9L1404.5 951.5L1405.8 949.1L1407.0 951.4L1408.2 948.4L1409.5 949.9L1410.8 948.1L1412.0 947.9L1413.2 949.3L1414.5 949.7L1415.8 947.8L1417.0 950.1L1418.2 948.2L1419.5 949.0L1420.8 949.2L1422.0 949.4L1423.2 947.1L1424.5 950.3L1425.8 949.3L1427.0 948.3L1428.2 947.7L1429.5 947.1L1430.8 947.3L1432.0 949.1L1433.2 948.2L1434.5 947.5L1435.8 948.0L1437.0 949.9L1438.2 948.1L1439.5 947.9L1440.8 949.6L1442.0 948.8L1443.2 948.4L1444.5 947.7L1445.8 946.8L1447.0 947.1L1448.2 947.7L1449.5 947.9L1450.8 948.4L1452.0 948.5L1453.2 948.1L1454.5 948.0L1455.8 946.8L1457.0 945.6L1458.2 947.1L1459.5 946.6L1460.8 946.7L1462.0 947.0L1463.2 945.9L1464.5 945.9L1465.8 946.8L1467.0 946.8L1468.2 946.0L1469.5 946.9L1470.8 946.1L1472.0 945.2L1473.2 946.1L1474.5 947.6L1475.8 945.1L1477.0 946.7L1478.2 946.7L1479.5 946.7L1480.8 944.3L1482.0 946.8L1483.2 944.9L1484.5 944.3L1485.8 944.1L1487.0 944.7L1488.2 944.0L1489.5 943.5L1490.8 944.6L1492.0 942.4L1493.2 941.8L1494.5 943.1L1495.8 942.5L1497.0 942.3L1498.2 939.7L1499.5 941.0L1500.8 939.8L1502.0 940.4L1503.2 937.0L1504.5 937.9L1505.8 936.9L1507.0 935.0L1508.2 935.2L1509.5 936.4L1510.8 934.3L1512.0 933.6L1513.2 934.7L1514.5 934.5L1515.8 934.3L1517.0 932.7L1518.2 933.4L1519.5 934.4L1520.8 932.9L1522.0 932.9L1523.2 934.4L1524.5 935.2L1525.8 932.8L1527.0 931.5L1528.2 932.6L1529.5 933.2L1530.8 934.1L1532.0 934.9L1533.2 934.3L1534.5 934.0L1535.8 935.0L1537.0 934.2L1538.2 935.6L1539.5 936.0L1540.8 940.3L1542.0 939.8L1543.2 939.6L1544.5 940.8L1545.8 942.4L1547.0 942.2L1548.2 943.7L1549.5 944.4L1550.8 946.5L1552.0 945.9L1553.2 946.1L1554.5 946.1L1555.8 946.9L1557.0 948.5L1558.2 949.0L1559.5 951.0L1560.8 949.9L1562.0 952.1L1563.2 951.8L1564.5 951.9L1565.8 950.2L1567.0 951.1L1568.2 953.1L1569.5 953.9L1570.8 953.0L1572.0 953.6L1573.2 952.7L1574.5 952.8L1575.8 952.6L1577.0 954.3L1578.2 953.8L1579.5 953.3L1580.8 953.3L1582.0 954.2L1583.2 954.0L1584.5 953.0L1585.8 955.4L1587.0 954.0L1588.2 953.8L1589.5 955.2L1590.8 954.8L1592.0 953.7L1593.2 954.3L1594.5 952.8L1595.8 953.2L1597.0 951.7L1598.2 954.9L1599.5 952.0L1600.8 954.4L1602.0 953.0L1603.2 952.9L1604.5 953.6L1605.8 954.0L1607.0 954.4L1608.2 955.5L1609.5 954.1L1610.8 954.6L1612.0 953.2L1613.2 954.5L1614.5 953.9L1615.8 953.4L1617.0 953.7L1618.2 953.7L1619.5 954.0L1620.8 954.2L1622.0 953.3L1623.2 953.1L1624.5 954.5L1625.8 952.2L1627.0 953.2L1628.2 955.3L1629.5 951.3L1630.8 953.1L1632.0 954.4L1633.2 952.2L1634.5 956.2L1635.8 951.4L1637.0 955.1L1638.2 955.3L1639.5 954.7L1640.8 953.6L1642.0 954.1L1643.2 953.0L1644.5 954.6L1645.8 952.7L1647.0 953.5L1648.2 954.7L1649.5 952.8L1650.8 953.5L1652.0 953.9L1653.2 952.5L1654.5 954.9L1655.8 954.1L1657.0 952.4L1658.2 953.8L1659.5 953.1L1660.8 953.2L1662.0 953.9L1663.2 953.1L1664.5 954.7L1665.8 953.1L1667.0 954.7L1668.2 953.8L1669.5 954.6L1670.8 953.3L1672.0 953.3L1673.2 952.7L1674.5 954.3L1675.8 954.7L1677.0 955.8L1678.2 955.0L1679.5 954.0L1680.8 953.6L1682.0 954.2L1683.2 953.8L1684.5 955.2L1685.8 954.7L1687.0 953.0L1688.2 953.2L1689.5 955.1L1690.8 954.1L1692.0 953.6L1693.2 954.9L1694.5 953.4L1695.8 953.5L1697.0 953.4L1698.2 952.0L1699.5 954.6L1700.8 952.7L1702.0 953.3L1703.2 953.1L1704.5 954.4L1705.8 953.5L1707.0 953.3L1708.2 951.4L1709.5 952.6L1710.8 950.9L1712.0 952.1L1713.2 951.8L1714.5 951.0L1715.8 952.6L1717.0 950.8L1718.2 950.5L1719.5 949.7L1720.8 949.0L1722.0 949.6L1723.2 949.4L1724.5 946.7L1725.8 948.5L1727.0 947.5L1728.2 947.5L1729.5 946.7L1730.8 944.7L1732.0 944.4L1733.2 946.8L1734.5 945.0L1735.8 943.1L1737.0 944.4L1738.2 943.4L1739.5 941.6L1740.8 940.8L1742.0 941.1L1743.2 942.5L1744.5 941.9L1745.8 941.4L1747.0 941.6L1748.2 941.7L1749.5 938.9L1750.8 940.5L1752.0 939.9L1753.2 939.5L1754.5 940.3L1755.8 940.9L1757.0 941.0L1758.2 940.3L1759.5 941.6L1760.8 944.5L1762.0 942.1L1763.2 942.0L1764.5 944.4L1765.8 945.3L1767.0 945.7L1768.2 944.7L1769.5 947.2L1770.8 946.1L1772.0 946.3L1773.2 947.4L1774.5 948.5L1775.8 949.9L1777.0 950.5L1778.2 950.5L1779.5 951.9L1780.8 951.6L1782.0 952.8L1783.2 951.0L1784.5 951.2L1785.8 953.8L1787.0 952.1L1788.2 953.5L1789.5 954.0L1790.8 953.8L1792.0 954.0L1793.2 955.8L1794.5 952.1L1795.8 955.3L1797.0 956.6L1798.2 954.5L1799.5 954.5L1800.8 955.2L1802.0 956.2L1803.2 953.4L1804.5 954.6L1805.8 954.3L1807.0 955.0L1808.2 954.6L1809.5 955.1L1810.8 954.1L1812.0 954.5L1813.2 953.9L1814.5 953.9L1815.8 954.4L1817.0 954.4L1818.2 953.4L1819.5 956.0L1820.8 954.4L1822.0 953.2L1823.2 955.5L1824.5 953.8L1825.8 955.0L1827.0 954.5L1828.2 954.7L1829.5 954.7L1830.8 954.0L1832.0 954.5L1833.2 956.4L1834.5 952.4L1835.8 954.6L1837.0 954.9L1838.2 953.5L1839.5 953.2L1840.8 956.5L1842.0 954.1L1843.2 956.4L1844.5 955.0L1845.8 954.5L1847.0 954.9L1848.2 955.0L1849.5 955.5L1850.8 954.8L1852.0 954.5L1853.2 954.5L1854.5 955.6L1855.8 955.1L1857.0 953.3L1858.2 953.7L1859.5 954.5L1860.8 953.6L1862.0 953.8L1863.2 953.2L1864.5 953.8L1865.8 954.4L1867.0 954.9L1868.2 954.0L1869.5 955.9L1870.8 953.8L1872.0 956.8L1873.2 954.7L1874.5 954.2L1875.8 953.1L1877.0 950.8L1878.2 953.2L1879.5 953.3L1880.8 954.8L1882.0 951.5L1883.2 954.4L1884.5 952.1L1885.8 952.8L1887.0 949.5L1888.2 951.8L1889.5 951.1L1890.8 951.8L1892.0 951.1L1893.2 949.7L1894.5 951.4L1895.8 951.0L1897.0 950.7L1898.2 950.9L1899.5 950.8L1900.8 949.5L1902.0 948.0L1903.2 947.8L1904.5 950.2L1905.8 949.4L1907.0 948.6L1908.2 947.9L1909.5 948.1L1910.8 947.9L1912.0 947.3L1913.2 946.7L1914.5 949.2L1915.8 947.1L1917.0 946.1L1918.2 945.2L1919.5 945.5L1920.8 946.5L1922.0 946.2L1923.2 944.9L1924.5 944.7L1925.8 944.0L1927.0 942.9L1928.2 944.9L1929.5 943.7L1930.8 945.5L1932.0 942.3L1933.2 942.8L1934.5 943.7L1935.8 942.7L1937.0 941.7L1938.2 942.1L1939.5 943.2L1940.8 943.5L1942.0 943.1L1943.2 944.3L1944.5 944.3L1945.8 943.8L1947.0 943.6L1948.2 943.4L1949.5 944.3L1950.8 944.7L1952.0 944.0L1953.2 944.5L1954.5 943.9L1955.8 943.0L1957.0 943.5L1958.2 945.3L1959.5 945.2L1960.8 946.4L1962.0 945.1L1963.2 946.0L1964.5 946.6L1965.8 946.5L1967.0 945.1L1968.2 945.7L1969.5 946.2L1970.8 945.3L1972.0 946.9L1973.2 947.6L1974.5 946.5L1975.8 949.0L1977.0 947.2L1978.2 947.6L1979.5 947.9L1980.8 947.8L1982.0 949.2L1983.2 949.1L1984.5 951.0L1985.8 950.4L1987.0 950.7L1988.2 950.3L1989.5 949.5L1990.8 951.0L1992.0 950.6L1993.2 952.6L1994.5 951.9L1995.8 953.8L1997.0 953.2L1998.2 953.6L1999.5 953.3L2000.8 953.5L2002.0 954.2L2003.2 954.7L2004.5 953.4L2005.8 954.7L2007.0 956.8L2008.2 954.4L2009.5 954.3L2010.8 954.0L2012.0 953.4L2013.2 956.0L2014.5 955.0L2015.8 955.3L2017.0 956.8L2018.2 957.5L2019.5 954.3L2020.8 956.2L2022.0 955.9L2023.2 955.7L2024.5 955.9L2025.8 955.4L2027.0 957.0L2028.2 956.1L2029.5 955.9L2030.8 956.8L2032.0 956.5L2033.2 956.1L2034.5 956.1L2035.8 957.4L2037.0 956.3L2038.2 955.8L2039.5 955.1L2040.8 955.6L2042.0 955.0L2043.2 956.1L2044.5 956.3L2045.8 954.2L2047.0 956.2L2048.2 956.8L2049.5 956.4L2050.8 955.4L2052.0 957.5L2053.2 955.7L2054.5 955.3L2055.8 955.5L2057.0 956.5L2058.2 957.5L2059.5 957.7L2060.8 956.8L2062.0 955.6L2063.2 956.1L2064.5 955.9L2065.8 956.6L2067.0 955.2L2068.2 957.0L2069.5 957.5L2070.8 956.8L2072.0 957.4L2073.2 956.1L2074.5 955.7L2075.8 956.5L2077.0 958.2L2078.2 958.1L2079.5 956.7L2080.8 958.3L2082.0 956.8L2083.2 958.6L2084.5 957.6L2085.8 956.8L2087.0 957.9L2088.2 956.5L2089.5 956.3L2090.8 955.9L2092.0 957.5L2093.2 957.2L2094.5 957.2L2095.8 956.8L2097.0 958.6L2098.2 956.8L2099.5 956.6L2100.8 958.4L2102.0 958.6L2103.2 957.6L2104.5 955.6L2105.8 956.7L2107.0 957.8L2108.2 957.3L2109.5 958.7L2110.8 956.0L2112.0 957.9L2113.2 956.7L2114.5 958.5L2115.8 957.2L2117.0 958.3L2118.2 956.7L2119.5 956.0L2120.8 956.3L2122.0 956.7L2123.2 956.3L2124.5 958.4L2125.8 958.6L2127.0 957.6L2128.2 956.4L2129.5 957.2L2130.8 956.7L2132.0 958.7L2133.2 957.6L2134.5 957.8L2135.8 957.0L2137.0 955.5L2138.2 956.6L2139.5 956.3L2140.8 957.7L2142.0 957.4L2143.2 956.6L2144.5 957.0L2145.8 958.8L2147.0 956.5L2148.2 956.5L2149.5 957.1L2150.8 956.7L2152.0 957.0L2153.2 957.9L2154.5 959.0L2155.8 955.7L2157.0 957.4L2158.2 957.4L2159.5 957.3L2160.8 957.2L2162.0 957.1L2163.2 958.3L2164.5 956.9L2165.8 957.3L2167.0 957.4L2168.2 957.5L2169.5 957.2L2170.8 958.3L2172.0 957.4L2173.2 957.6L2174.5 957.3L2175.8 956.5L2177.0 956.6L2178.2 956.4L2179.5 957.6L2180.8 956.7L2182.0 956.4L2183.2 957.6L2184.5 957.9L2185.8 955.7L2187.0 959.0L2188.2 957.4L2189.5 957.3L2190.8 958.4L2192.0 957.5L2193.2 956.8L2194.5 959.5L2195.8 956.4L2197.0 957.3L2198.2 958.2L2199.5 956.4L2200.8 957.3L2202.0 957.8L2203.2 959.6L2204.5 956.5L2205.8 957.3L2207.0 958.0L2208.2 957.4L2209.5 956.2L2210.8 957.7L2212.0 957.4L2213.2 957.7L2214.5 958.3L2215.8 958.1L2217.0 957.5L2218.2 957.4L2219.5 956.0L2220.8 956.9L2222.0 957.2L2223.2 956.6L2224.5 957.0L2225.8 956.1L2227.0 958.3L2228.2 958.8L2229.5 956.4L2230.8 957.1L2232.0 956.4L2233.2 957.8L2234.5 957.0L2235.8 956.6L2237.0 956.2L2238.2 956.5L2239.5 955.4L2240.8 956.9L2242.0 955.6L2243.2 956.7L2244.5 956.3L2245.8 957.2L2247.0 956.1L2248.2 957.0L2249.5 955.2L2250.8 956.5L2252.0 955.7L2253.2 956.1L2254.5 955.9L2255.8 956.6L2257.0 953.8L2258.2 956.0L2259.5 954.2L2260.8 956.7L2262.0 953.7L2263.2 954.6L2264.5 953.9L2265.8 957.0L2267.0 954.3L2268.2 955.7L2269.5 955.1L2270.8 954.0L2272.0 955.4L2273.2 956.4L2274.5 955.7L2275.8 956.8L2277.0 955.7L2278.2 956.1L2279.5 955.8L2280.8 956.6L2282.0 958.1L2283.2 956.8L2284.5 956.7L2285.8 956.0L2287.0 955.9L2288.2 958.0L2289.5 955.7L2290.8 955.9L2292.0 956.7L2293.2 956.5L2294.5 958.7L2295.8 954.7L2297.0 957.4L2298.2 957.7L2299.5 956.1L2300.8 956.6L2302.0 957.6L2303.2 958.8L2304.5 956.5L2305.8 955.9L2307.0 958.3L2308.2 958.9L2309.5 957.2L2310.8 955.5L2312.0 959.0L2313.2 957.4L2314.5 958.7L2315.8 957.7L2317.0 957.4L2318.2 957.3L2319.5 959.2L2320.8 959.2L2322.0 955.8L2323.2 957.0L2324.5 959.6L2325.8 957.6L2327.0 956.7L2328.2 958.0L2329.5 957.9L2330.8 957.9L2332.0 957.6L2333.2 957.8L2334.5 957.7L2335.8 958.4L2337.0 957.4L2338.2 957.9L2339.5 958.0L2340.8 959.4L2342.0 958.6L2343.2 958.1L2344.5 958.8L2345.8 958.7L2347.0 959.3L2348.2 958.8L2349.5 960.0L2350.8 959.6L2352.0 958.3L2353.2 958.0L2354.5 959.2L2355.8 958.9L2357.0 958.3L2358.2 957.0L2359.5 956.7L2360.8 958.8L2362.0 959.2L2363.2 959.2L2364.5 957.3L2365.8 959.5L2367.0 958.0L2368.2 958.9L2369.5 958.9L2370.8 957.7L2372.0 957.9" stroke="#0000fe" stroke-width="7.3"/>
<!-- calcined sample -->
<path class="curve" d="M197.0 472.5L198.2 471.9L199.5 472.0L200.8 472.1L202.0 472.7L203.2 474.4L204.5 474.2L205.8 473.1L207.0 473.9L208.2 474.8L209.5 474.7L210.8 474.1L212.0 474.2L213.2 475.4L214.5 474.7L215.8 474.2L217.0 474.0L218.2 473.6L219.5 473.8L220.8 474.7L222.0 475.3L223.2 475.8L224.5 476.9L225.8 476.7L227.0 475.2L228.2 475.1L229.5 476.9L230.8 477.5L232.0 476.7L233.2 476.5L234.5 477.0L235.8 477.0L237.0 478.5L238.2 478.6L239.5 478.1L240.8 479.4L242.0 479.2L243.2 478.7L244.5 479.3L245.8 479.6L247.0 478.9L248.2 479.0L249.5 480.9L250.8 480.0L252.0 479.8L253.2 481.0L254.5 480.2L255.8 481.6L257.0 482.7L258.2 480.7L259.5 480.5L260.8 481.8L262.0 481.7L263.2 482.0L264.5 482.2L265.8 482.3L267.0 483.5L268.2 482.7L269.5 482.1L270.8 482.4L272.0 482.5L273.2 482.1L274.5 481.8L275.8 482.6L277.0 483.7L278.2 484.7L279.5 483.4L280.8 482.3L282.0 483.7L283.2 483.1L284.5 482.5L285.8 483.9L287.0 485.1L288.2 485.8L289.5 484.9L290.8 484.3L292.0 484.5L293.2 485.9L294.5 485.9L295.8 484.8L297.0 485.5L298.2 485.7L299.5 485.5L300.8 484.9L302.0 485.2L303.2 485.7L304.5 486.6L305.8 487.4L307.0 486.8L308.2 486.9L309.5 486.8L310.8 487.2L312.0 487.5L313.2 487.3L314.5 486.6L315.8 486.5L317.0 486.4L318.2 484.9L319.5 485.9L320.8 486.8L322.0 487.2L323.2 489.3L324.5 488.8L325.8 487.0L327.0 487.8L328.2 488.6L329.5 488.5L330.8 488.1L332.0 488.8L333.2 489.3L334.5 488.3L335.8 488.0L337.0 488.8L338.2 488.3L339.5 488.5L340.8 488.7L342.0 489.3L343.2 490.1L344.5 489.6L345.8 489.2L347.0 489.1L348.2 488.3L349.5 487.7L350.8 489.3L352.0 488.8L353.2 489.2L354.5 489.5L355.8 489.6L357.0 490.2L358.2 490.3L359.5 491.1L360.8 489.6L362.0 490.5L363.2 492.5L364.5 491.7L365.8 490.7L367.0 490.7L368.2 490.3L369.5 491.2L370.8 491.6L372.0 490.9L373.2 490.8L374.5 490.5L375.8 490.3L377.0 491.6L378.2 492.4L379.5 492.3L380.8 492.4L382.0 491.4L383.2 491.3L384.5 491.4L385.8 491.7L387.0 491.9L388.2 491.8L389.5 491.2L390.8 491.0L392.0 493.0L393.2 493.2L394.5 491.5L395.8 492.2L397.0 493.9L398.2 492.8L399.5 491.8L400.8 492.4L402.0 491.5L403.2 492.5L404.5 493.7L405.8 493.3L407.0 492.9L408.2 493.3L409.5 493.5L410.8 493.2L412.0 492.9L413.2 492.3L414.5 494.0L415.8 494.5L417.0 493.9L418.2 494.3L419.5 494.0L420.8 493.8L422.0 494.6L423.2 494.8L424.5 494.4L425.8 494.7L427.0 495.7L428.2 496.2L429.5 495.8L430.8 495.1L432.0 494.1L433.2 495.2L434.5 496.9L435.8 496.3L437.0 496.1L438.2 496.8L439.5 497.2L440.8 497.4L442.0 496.7L443.2 497.2L444.5 496.8L445.8 496.5L447.0 497.7L448.2 497.9L449.5 498.9L450.8 499.4L452.0 497.6L453.2 495.6L454.5 497.0L455.8 497.6L457.0 497.2L458.2 498.5L459.5 497.6L460.8 495.8L462.0 497.1L463.2 498.6L464.5 498.4L465.8 498.5L467.0 498.2L468.2 497.3L469.5 497.9L470.8 498.3L472.0 497.5L473.2 498.5L474.5 499.7L475.8 499.7L477.0 499.2L478.2 498.6L479.5 498.7L480.8 498.6L482.0 499.5L483.2 499.7L484.5 499.9L485.8 500.7L487.0 501.9L488.2 500.8L489.5 500.2L490.8 501.1L492.0 500.6L493.2 499.9L494.5 499.7L495.8 501.2L497.0 501.5L498.2 501.2L499.5 501.1L500.8 501.9L502.0 502.2L503.2 500.1L504.5 499.7L505.8 499.9L507.0 498.4L508.2 499.4L509.5 502.4L510.8 502.9L512.0 501.3L513.2 500.8L514.5 502.4L515.8 503.1L517.0 502.5L518.2 502.4L519.5 502.5L520.8 503.1L522.0 503.5L523.2 503.2L524.5 502.2L525.8 502.5L527.0 502.8L528.2 503.2L529.5 502.9L530.8 502.2L532.0 503.0L533.2 502.3L534.5 503.5L535.8 505.4L537.0 504.0L538.2 503.6L539.5 504.2L540.8 502.0L542.0 502.0L543.2 503.7L544.5 503.6L545.8 503.0L547.0 502.8L548.2 503.4L549.5 504.4L550.8 504.7L552.0 504.0L553.2 504.8L554.5 504.4L555.8 503.2L557.0 502.4L558.2 503.7L559.5 505.5L560.8 505.1L562.0 504.9L563.2 504.3L564.5 504.0L565.8 503.8L567.0 503.5L568.2 503.6L569.5 504.7L570.8 505.0L572.0 503.9L573.2 503.1L574.5 502.7L575.8 504.0L577.0 504.7L578.2 503.6L579.5 502.9L580.8 502.0L582.0 502.1L583.2 503.2L584.5 502.8L585.8 501.9L587.0 501.8L588.2 501.8L589.5 500.6L590.8 500.1L592.0 500.2L593.2 500.5L594.5 500.2L595.8 499.5L597.0 500.4L598.2 499.1L599.5 497.0L600.8 496.4L602.0 495.6L603.2 493.4L604.5 491.9L605.8 491.6L607.0 488.1L608.2 482.9L609.5 477.5L610.8 471.7L612.0 463.9L613.2 453.6L614.5 444.1L615.8 431.2L617.0 416.3L618.2 401.7L619.5 384.1L620.8 366.3L622.0 351.4L623.2 337.5L624.5 326.8L625.8 322.7L627.0 326.0L628.2 336.5L629.5 350.2L630.8 364.5L632.0 380.5L633.2 398.0L634.5 415.0L635.8 430.2L637.0 443.3L638.2 455.0L639.5 464.2L640.8 471.9L642.0 478.4L643.2 483.3L644.5 487.3L645.8 490.9L647.0 493.3L648.2 494.7L649.5 495.5L650.8 496.8L652.0 497.7L653.2 498.0L654.5 499.5L655.8 500.7L657.0 500.9L658.2 500.7L659.5 501.1L660.8 501.7L662.0 502.3L663.2 503.4L664.5 503.5L665.8 502.9L667.0 502.7L668.2 503.1L669.5 503.5L670.8 503.3L672.0 503.5L673.2 503.6L674.5 504.0L675.8 504.6L677.0 504.6L678.2 504.2L679.5 504.0L680.8 504.1L682.0 503.8L683.2 503.7L684.5 503.3L685.8 502.9L687.0 503.3L688.2 503.5L689.5 503.1L690.8 503.1L692.0 502.3L693.2 501.4L694.5 501.4L695.8 501.1L697.0 500.2L698.2 499.4L699.5 498.4L700.8 496.3L702.0 494.2L703.2 492.5L704.5 490.0L705.8 485.9L707.0 482.0L708.2 477.8L709.5 472.2L710.8 465.5L712.0 457.8L713.2 449.6L714.5 441.8L715.8 433.2L717.0 423.9L718.2 415.2L719.5 407.0L720.8 400.5L722.0 396.1L723.2 395.2L724.5 396.0L725.8 399.6L727.0 405.9L728.2 412.8L729.5 421.0L730.8 430.1L732.0 439.1L733.2 447.8L734.5 455.6L735.8 463.1L737.0 469.6L738.2 475.1L739.5 480.3L740.8 485.1L742.0 488.1L743.2 490.7L744.5 493.1L745.8 494.6L747.0 496.3L748.2 497.4L749.5 498.3L750.8 498.6L752.0 498.6L753.2 498.8L754.5 498.3L755.8 498.3L757.0 498.0L758.2 497.4L759.5 496.6L760.8 495.2L762.0 493.9L763.2 492.6L764.5 490.8L765.8 487.9L767.0 484.3L768.2 479.9L769.5 474.7L770.8 468.2L772.0 459.1L773.2 449.2L774.5 437.7L775.8 422.7L777.0 405.1L778.2 386.1L779.5 364.7L780.8 341.9L782.0 317.9L783.2 293.4L784.5 270.8L785.8 250.9L787.0 235.8L788.2 227.2L789.5 226.1L790.8 233.0L792.0 247.8L793.2 267.5L794.5 289.7L795.8 314.0L797.0 338.4L798.2 361.9L799.5 384.3L800.8 403.9L802.0 420.5L803.2 435.8L804.5 448.8L805.8 460.1L807.0 469.6L808.2 476.4L809.5 481.6L810.8 486.4L812.0 490.9L813.2 493.2L814.5 495.4L815.8 497.9L817.0 499.7L818.2 501.1L819.5 502.0L820.8 502.9L822.0 503.6L823.2 505.2L824.5 506.5L825.8 506.7L827.0 506.8L828.2 507.0L829.5 507.6L830.8 508.6L832.0 509.1L833.2 509.5L834.5 509.6L835.8 509.9L837.0 510.5L838.2 511.2L839.5 512.0L840.8 511.9L842.0 511.4L843.2 511.7L844.5 511.9L845.8 511.9L847.0 512.3L848.2 512.4L849.5 512.7L850.8 513.2L852.0 513.2L853.2 513.4L854.5 513.2L855.8 513.1L857.0 513.4L858.2 513.6L859.5 513.9L860.8 514.1L862.0 513.8L863.2 513.9L864.5 514.0L865.8 513.9L867.0 514.3L868.2 514.0L869.5 514.2L870.8 514.9L872.0 514.9L873.2 514.8L874.5 514.8L875.8 514.7L877.0 514.8L878.2 515.0L879.5 515.2L880.8 515.0L882.0 515.1L883.2 515.6L884.5 515.5L885.8 515.4L887.0 515.7L888.2 515.4L889.5 515.4L890.8 516.0L892.0 516.0L893.2 516.1L894.5 515.9L895.8 515.7L897.0 516.1L898.2 516.4L899.5 516.3L900.8 515.8L902.0 515.9L903.2 516.7L904.5 516.9L905.8 516.7L907.0 516.0L908.2 516.3L909.5 516.7L910.8 515.8L912.0 516.0L913.2 516.3L914.5 515.9L915.8 516.1L917.0 516.9L918.2 517.0L919.5 516.7L920.8 517.4L922.0 517.8L923.2 517.3L924.5 516.8L925.8 516.5L927.0 516.4L928.2 516.9L929.5 517.3L930.8 517.2L932.0 517.4L933.2 517.2L934.5 516.9L935.8 517.4L937.0 517.6L938.2 517.7L939.5 517.7L940.8 517.3L942.0 517.4L943.2 517.2L944.5 516.7L945.8 517.1L947.0 517.6L948.2 517.5L949.5 517.1L950.8 516.9L952.0 517.3L953.2 517.2L954.5 516.7L955.8 516.9L957.0 517.8L958.2 518.0L959.5 517.6L960.8 517.5L962.0 517.9L963.2 517.2L964.5 516.9L965.8 517.9L967.0 518.1L968.2 518.5L969.5 518.6L970.8 518.2L972.0 518.0L973.2 518.2L974.5 518.0L975.8 517.7L977.0 518.2L978.2 518.7L979.5 518.4L980.8 517.9L982.0 518.0L983.2 518.4L984.5 518.4L985.8 518.4L987.0 518.2L988.2 517.7L989.5 518.0L990.8 518.2L992.0 518.6L993.2 518.0L994.5 517.5L995.8 518.0L997.0 518.1L998.2 517.6L999.5 518.0L1000.8 518.6L1002.0 518.5L1003.2 518.2L1004.5 518.4L1005.8 518.5L1007.0 518.5L1008.2 518.3L1009.5 517.8L1010.8 518.1L1012.0 518.2L1013.2 518.3L1014.5 518.6L1015.8 518.2L1017.0 518.1L1018.2 518.3L1019.5 518.5L1020.8 518.5L1022.0 518.1L1023.2 518.6L1024.5 519.4L1025.8 519.6L1027.0 519.0L1028.2 518.5L1029.5 519.0L1030.8 518.9L1032.0 518.2L1033.2 518.3L1034.5 518.7L1035.8 518.4L1037.0 517.9L1038.2 517.7L1039.5 518.3L1040.8 518.5L1042.0 518.3L1043.2 518.6L1044.5 518.8L1045.8 518.7L1047.0 518.7L1048.2 518.5L1049.5 518.3L1050.8 518.3L1052.0 518.7L1053.2 519.0L1054.5 518.5L1055.8 518.4L1057.0 518.6L1058.2 518.9L1059.5 518.5L1060.8 518.0L1062.0 518.4L1063.2 519.4L1064.5 519.7L1065.8 519.0L1067.0 519.0L1068.2 519.6L1069.5 519.3L1070.8 518.7L1072.0 519.1L1073.2 519.3L1074.5 519.2L1075.8 518.9L1077.0 519.3L1078.2 519.9L1079.5 519.6L1080.8 519.3L1082.0 518.6L1083.2 518.6L1084.5 519.1L1085.8 519.1L1087.0 519.3L1088.2 519.1L1089.5 518.5L1090.8 518.7L1092.0 519.0L1093.2 518.8L1094.5 518.8L1095.8 518.8L1097.0 518.4L1098.2 518.8L1099.5 519.6L1100.8 519.6L1102.0 520.1L1103.2 519.8L1104.5 518.8L1105.8 518.5L1107.0 518.7L1108.2 518.8L1109.5 519.2L1110.8 518.8L1112.0 518.9L1113.2 519.1L1114.5 519.1L1115.8 519.5L1117.0 519.3L1118.2 519.3L1119.5 519.3L1120.8 519.2L1122.0 518.9L1123.2 519.0L1124.5 520.0L1125.8 520.6L1127.0 520.4L1128.2 520.1L1129.5 519.6L1130.8 519.8L1132.0 519.9L1133.2 519.5L1134.5 519.4L1135.8 519.5L1137.0 519.4L1138.2 519.4L1139.5 519.2L1140.8 519.1L1142.0 520.0L1143.2 520.1L1144.5 519.4L1145.8 519.5L1147.0 519.7L1148.2 519.3L1149.5 519.0L1150.8 519.5L1152.0 519.6L1153.2 519.4L1154.5 519.7L1155.8 519.4L1157.0 519.0L1158.2 519.0L1159.5 519.3L1160.8 518.9L1162.0 518.2L1163.2 518.5L1164.5 518.8L1165.8 518.9L1167.0 519.0L1168.2 518.2L1169.5 517.8L1170.8 517.8L1172.0 517.0L1173.2 516.7L1174.5 516.0L1175.8 514.4L1177.0 513.6L1178.2 512.5L1179.5 510.9L1180.8 509.6L1182.0 507.7L1183.2 505.6L1184.5 502.7L1185.8 498.7L1187.0 495.2L1188.2 491.8L1189.5 487.9L1190.8 484.4L1192.0 480.7L1193.2 476.4L1194.5 473.4L1195.8 471.0L1197.0 468.5L1198.2 467.0L1199.5 466.3L1200.8 466.3L1202.0 467.5L1203.2 469.3L1204.5 471.6L1205.8 474.6L1207.0 477.5L1208.2 481.1L1209.5 485.2L1210.8 489.2L1212.0 492.6L1213.2 496.6L1214.5 500.3L1215.8 502.6L1217.0 504.8L1218.2 507.4L1219.5 509.9L1220.8 511.6L1222.0 513.1L1223.2 514.3L1224.5 515.4L1225.8 516.2L1227.0 516.6L1228.2 517.6L1229.5 518.7L1230.8 518.5L1232.0 517.9L1233.2 518.1L1234.5 518.6L1235.8 518.6L1237.0 518.4L1238.2 518.8L1239.5 518.7L1240.8 518.5L1242.0 518.7L1243.2 518.4L1244.5 518.2L1245.8 518.7L1247.0 519.2L1248.2 519.2L1249.5 518.7L1250.8 518.7L1252.0 519.4L1253.2 519.7L1254.5 519.5L1255.8 519.1L1257.0 519.3L1258.2 519.4L1259.5 518.9L1260.8 518.9L1262.0 519.6L1263.2 519.9L1264.5 519.9L1265.8 519.7L1267.0 519.6L1268.2 519.6L1269.5 519.3L1270.8 520.1L1272.0 520.4L1273.2 519.6L1274.5 519.4L1275.8 519.6L1277.0 520.0L1278.2 519.7L1279.5 518.9L1280.8 519.0L1282.0 519.5L1283.2 519.6L1284.5 520.0L1285.8 520.0L1287.0 519.9L1288.2 519.5L1289.5 519.5L1290.8 520.4L1292.0 520.4L1293.2 519.9L1294.5 519.7L1295.8 520.1L1297.0 519.8L1298.2 519.3L1299.5 519.6L1300.8 519.8L1302.0 519.5L1303.2 519.4L1304.5 519.4L1305.8 519.3L1307.0 519.2L1308.2 518.8L1309.5 518.8L1310.8 519.2L1312.0 518.9L1313.2 518.4L1314.5 518.8L1315.8 518.4L1317.0 518.0L1318.2 517.8L1319.5 517.7L1320.8 518.1L1322.0 517.6L1323.2 515.7L1324.5 513.5L1325.8 510.8L1327.0 506.4L1328.2 500.9L1329.5 492.5L1330.8 482.0L1332.0 469.6L1333.2 454.9L1334.5 438.9L1335.8 422.2L1337.0 407.5L1338.2 396.3L1339.5 389.5L1340.8 388.5L1342.0 393.5L1343.2 403.1L1344.5 417.4L1345.8 434.0L1347.0 449.9L1348.2 464.9L1349.5 478.4L1350.8 489.3L1352.0 497.4L1353.2 503.8L1354.5 508.9L1355.8 511.6L1357.0 513.6L1358.2 515.1L1359.5 515.3L1360.8 516.3L1362.0 516.9L1363.2 516.4L1364.5 516.5L1365.8 517.2L1367.0 517.7L1368.2 517.3L1369.5 517.2L1370.8 517.5L1372.0 517.2L1373.2 517.1L1374.5 517.3L1375.8 517.0L1377.0 516.9L1378.2 517.0L1379.5 517.1L1380.8 516.9L1382.0 516.8L1383.2 517.2L1384.5 517.3L1385.8 517.2L1387.0 517.4L1388.2 517.3L1389.5 517.5L1390.8 517.0L1392.0 516.5L1393.2 516.6L1394.5 516.7L1395.8 517.2L1397.0 516.0L1398.2 515.1L1399.5 515.7L1400.8 516.0L1402.0 515.9L1403.2 515.4L1404.5 515.1L1405.8 515.1L1407.0 514.6L1408.2 514.4L1409.5 513.3L1410.8 512.6L1412.0 512.2L1413.2 511.3L1414.5 510.5L1415.8 508.8L1417.0 507.7L1418.2 506.5L1419.5 505.0L1420.8 503.9L1422.0 503.6L1423.2 504.1L1424.5 504.7L1425.8 505.1L1427.0 505.9L1428.2 506.9L1429.5 507.4L1430.8 508.4L1432.0 509.3L1433.2 509.6L1434.5 509.6L1435.8 509.9L1437.0 510.0L1438.2 509.9L1439.5 510.1L1440.8 510.2L1442.0 509.9L1443.2 509.7L1444.5 509.5L1445.8 509.7L1447.0 509.4L1448.2 509.7L1449.5 509.8L1450.8 509.7L1452.0 509.7L1453.2 509.0L1454.5 508.5L1455.8 508.7L1457.0 508.7L1458.2 508.5L1459.5 508.3L1460.8 507.7L1462.0 507.6L1463.2 507.3L1464.5 507.4L1465.8 507.7L1467.0 507.3L1468.2 507.3L1469.5 507.4L1470.8 507.0L1472.0 506.3L1473.2 506.3L1474.5 506.1L1475.8 506.0L1477.0 506.9L1478.2 506.8L1479.5 506.4L1480.8 506.2L1482.0 506.0L1483.2 506.2L1484.5 505.9L1485.8 506.1L1487.0 506.5L1488.2 506.3L1489.5 505.7L1490.8 505.2L1492.0 505.3L1493.2 505.3L1494.5 505.2L1495.8 505.1L1497.0 505.2L1498.2 504.4L1499.5 503.5L1500.8 503.9L1502.0 503.4L1503.2 502.2L1504.5 501.4L1505.8 500.1L1507.0 498.7L1508.2 497.9L1509.5 495.9L1510.8 492.1L1512.0 488.1L1513.2 484.3L1514.5 480.2L1515.8 474.9L1517.0 468.8L1518.2 463.1L1519.5 457.1L1520.8 450.3L1522.0 443.5L1523.2 437.4L1524.5 432.4L1525.8 428.1L1527.0 425.8L1528.2 425.1L1529.5 425.4L1530.8 428.2L1532.0 431.9L1533.2 435.9L1534.5 441.6L1535.8 448.6L1537.0 454.9L1538.2 461.2L1539.5 468.1L1540.8 474.4L1542.0 480.8L1543.2 486.0L1544.5 490.1L1545.8 494.8L1547.0 498.7L1548.2 501.8L1549.5 504.5L1550.8 506.4L1552.0 508.3L1553.2 509.1L1554.5 509.9L1555.8 511.2L1557.0 512.0L1558.2 512.8L1559.5 513.0L1560.8 513.2L1562.0 514.1L1563.2 514.7L1564.5 514.6L1565.8 515.3L1567.0 516.4L1568.2 515.8L1569.5 515.5L1570.8 516.9L1572.0 517.3L1573.2 516.9L1574.5 516.9L1575.8 516.9L1577.0 517.2L1578.2 517.4L1579.5 517.9L1580.8 518.1L1582.0 518.0L1583.2 517.9L1584.5 518.2L1585.8 518.4L1587.0 518.4L1588.2 519.0L1589.5 519.1L1590.8 519.0L1592.0 519.1L1593.2 519.0L1594.5 518.9L1595.8 518.8L1597.0 519.1L1598.2 518.9L1599.5 519.1L1600.8 519.4L1602.0 518.8L1603.2 518.7L1604.5 518.8L1605.8 518.9L1607.0 519.0L1608.2 519.2L1609.5 519.2L1610.8 518.3L1612.0 518.3L1613.2 518.4L1614.5 518.6L1615.8 519.5L1617.0 519.7L1618.2 519.0L1619.5 518.7L1620.8 519.5L1622.0 519.8L1623.2 519.3L1624.5 519.6L1625.8 520.2L1627.0 520.3L1628.2 519.7L1629.5 519.4L1630.8 519.6L1632.0 519.3L1633.2 518.9L1634.5 519.0L1635.8 519.1L1637.0 519.1L1638.2 519.3L1639.5 520.0L1640.8 519.8L1642.0 519.1L1643.2 519.3L1644.5 519.4L1645.8 519.8L1647.0 519.5L1648.2 519.0L1649.5 518.7L1650.8 518.7L1652.0 519.3L1653.2 519.6L1654.5 519.2L1655.8 519.0L1657.0 519.3L1658.2 519.6L1659.5 519.4L1660.8 519.2L1662.0 518.9L1663.2 518.7L1664.5 519.6L1665.8 519.3L1667.0 518.8L1668.2 519.5L1669.5 519.4L1670.8 519.2L1672.0 519.3L1673.2 519.5L1674.5 519.5L1675.8 519.0L1677.0 519.0L1678.2 519.2L1679.5 519.1L1680.8 519.4L1682.0 519.7L1683.2 519.9L1684.5 519.6L1685.8 519.6L1687.0 520.1L1688.2 520.1L1689.5 520.2L1690.8 519.8L1692.0 519.4L1693.2 519.6L1694.5 519.3L1695.8 519.1L1697.0 519.3L1698.2 519.2L1699.5 518.8L1700.8 518.7L1702.0 519.1L1703.2 519.6L1704.5 519.8L1705.8 519.5L1707.0 519.2L1708.2 519.0L1709.5 519.1L1710.8 519.2L1712.0 519.2L1713.2 519.7L1714.5 519.5L1715.8 518.5L1717.0 518.2L1718.2 518.1L1719.5 517.9L1720.8 518.5L1722.0 518.7L1723.2 517.6L1724.5 517.4L1725.8 517.7L1727.0 516.9L1728.2 515.6L1729.5 514.7L1730.8 513.8L1732.0 512.7L1733.2 511.1L1734.5 509.2L1735.8 506.7L1737.0 503.7L1738.2 500.2L1739.5 495.6L1740.8 491.2L1742.0 487.1L1743.2 482.2L1744.5 477.4L1745.8 472.5L1747.0 467.1L1748.2 463.1L1749.5 459.6L1750.8 456.0L1752.0 453.8L1753.2 452.8L1754.5 452.5L1755.8 452.6L1757.0 454.4L1758.2 458.0L1759.5 461.8L1760.8 466.4L1762.0 471.8L1763.2 476.6L1764.5 481.0L1765.8 486.5L1767.0 491.3L1768.2 494.8L1769.5 498.9L1770.8 502.8L1772.0 505.6L1773.2 508.3L1774.5 510.6L1775.8 512.0L1777.0 513.7L1778.2 515.4L1779.5 516.1L1780.8 516.8L1782.0 517.5L1783.2 518.7L1784.5 518.9L1785.8 518.8L1787.0 519.2L1788.2 519.0L1789.5 519.3L1790.8 519.7L1792.0 520.0L1793.2 519.9L1794.5 519.5L1795.8 519.3L1797.0 519.7L1798.2 520.1L1799.5 520.4L1800.8 520.4L1802.0 520.3L1803.2 520.7L1804.5 520.5L1805.8 519.7L1807.0 519.3L1808.2 519.4L1809.5 520.2L1810.8 520.4L1812.0 520.3L1813.2 520.7L1814.5 520.9L1815.8 521.0L1817.0 520.5L1818.2 520.2L1819.5 520.3L1820.8 520.4L1822.0 520.3L1823.2 520.2L1824.5 520.8L1825.8 520.4L1827.0 520.0L1828.2 520.3L1829.5 520.3L1830.8 520.7L1832.0 520.7L1833.2 520.7L1834.5 520.3L1835.8 520.4L1837.0 520.6L1838.2 520.5L1839.5 520.7L1840.8 519.8L1842.0 519.6L1843.2 520.3L1844.5 520.9L1845.8 520.9L1847.0 520.6L1848.2 520.1L1849.5 520.4L1850.8 521.2L1852.0 520.8L1853.2 520.2L1854.5 519.7L1855.8 519.9L1857.0 521.0L1858.2 520.9L1859.5 520.4L1860.8 520.3L1862.0 519.5L1863.2 519.6L1864.5 519.3L1865.8 518.6L1867.0 518.6L1868.2 518.4L1869.5 517.8L1870.8 517.0L1872.0 515.7L1873.2 514.3L1874.5 513.4L1875.8 512.4L1877.0 510.9L1878.2 509.8L1879.5 509.2L1880.8 508.5L1882.0 508.1L1883.2 508.4L1884.5 509.3L1885.8 510.6L1887.0 512.0L1888.2 512.4L1889.5 512.7L1890.8 514.2L1892.0 515.1L1893.2 515.5L1894.5 516.5L1895.8 516.9L1897.0 516.4L1898.2 516.3L1899.5 516.8L1900.8 517.3L1902.0 516.8L1903.2 516.4L1904.5 516.8L1905.8 517.2L1907.0 516.8L1908.2 516.6L1909.5 516.8L1910.8 516.0L1912.0 515.5L1913.2 515.8L1914.5 515.4L1915.8 514.2L1917.0 513.7L1918.2 513.7L1919.5 513.2L1920.8 511.1L1922.0 509.7L1923.2 507.9L1924.5 505.0L1925.8 502.7L1927.0 499.2L1928.2 495.0L1929.5 490.1L1930.8 485.5L1932.0 480.8L1933.2 475.1L1934.5 471.5L1935.8 468.2L1937.0 464.5L1938.2 461.6L1939.5 460.3L1940.8 461.0L1942.0 462.4L1943.2 464.4L1944.5 467.1L1945.8 471.2L1947.0 475.4L1948.2 479.7L1949.5 485.0L1950.8 489.6L1952.0 493.7L1953.2 497.5L1954.5 501.2L1955.8 504.2L1957.0 505.8L1958.2 507.3L1959.5 508.2L1960.8 508.4L1962.0 509.2L1963.2 508.8L1964.5 508.0L1965.8 507.2L1967.0 506.3L1968.2 505.8L1969.5 504.0L1970.8 502.0L1972.0 500.2L1973.2 498.1L1974.5 496.3L1975.8 495.6L1977.0 495.5L1978.2 494.5L1979.5 493.4L1980.8 493.7L1982.0 494.6L1983.2 495.9L1984.5 497.7L1985.8 499.5L1987.0 501.7L1988.2 503.6L1989.5 505.5L1990.8 507.3L1992.0 509.2L1993.2 511.0L1994.5 512.7L1995.8 514.1L1997.0 515.3L1998.2 516.7L1999.5 517.0L2000.8 517.3L2002.0 517.9L2003.2 518.8L2004.5 519.8L2005.8 520.1L2007.0 519.7L2008.2 520.0L2009.5 519.8L2010.8 520.0L2012.0 520.3L2013.2 519.2L2014.5 520.2L2015.8 521.5L2017.0 520.6L2018.2 520.3L2019.5 520.6L2020.8 520.6L2022.0 520.3L2023.2 520.2L2024.5 520.8L2025.8 521.1L2027.0 521.4L2028.2 521.4L2029.5 521.8L2030.8 521.6L2032.0 521.1L2033.2 520.8L2034.5 520.4L2035.8 521.4L2037.0 521.5L2038.2 521.3L2039.5 521.6L2040.8 521.2L2042.0 521.2L2043.2 521.4L2044.5 521.4L2045.8 521.8L2047.0 522.1L2048.2 521.8L2049.5 521.4L2050.8 521.7L2052.0 522.0L2053.2 522.2L2054.5 523.0L2055.8 523.0L2057.0 522.3L2058.2 522.1L2059.5 521.9L2060.8 521.7L2062.0 521.7L2063.2 521.9L2064.5 522.1L2065.8 522.4L2067.0 522.5L2068.2 522.3L2069.5 522.1L2070.8 522.6L2072.0 523.1L2073.2 523.2L2074.5 523.3L2075.8 523.2L2077.0 522.9L2078.2 522.8L2079.5 523.6L2080.8 523.1L2082.0 522.7L2083.2 523.5L2084.5 523.3L2085.8 523.0L2087.0 523.3L2088.2 522.9L2089.5 522.6L2090.8 522.5L2092.0 522.2L2093.2 522.2L2094.5 522.3L2095.8 522.4L2097.0 522.3L2098.2 521.6L2099.5 521.7L2100.8 522.0L2102.0 521.3L2103.2 520.5L2104.5 520.0L2105.8 520.1L2107.0 520.3L2108.2 519.9L2109.5 520.3L2110.8 522.0L2112.0 521.6L2113.2 521.5L2114.5 522.4L2115.8 522.3L2117.0 522.8L2118.2 522.6L2119.5 522.3L2120.8 523.1L2122.0 523.0L2123.2 522.5L2124.5 522.6L2125.8 522.6L2127.0 523.0L2128.2 522.8L2129.5 522.6L2130.8 522.5L2132.0 522.5L2133.2 522.8L2134.5 521.9L2135.8 521.9L2137.0 522.3L2138.2 522.2L2139.5 522.9L2140.8 522.7L2142.0 522.0L2143.2 522.7L2144.5 523.0L2145.8 523.0L2147.0 523.1L2148.2 522.4L2149.5 522.3L2150.8 522.9L2152.0 523.2L2153.2 522.8L2154.5 522.5L2155.8 522.5L2157.0 522.3L2158.2 522.9L2159.5 523.1L2160.8 522.2L2162.0 522.0L2163.2 522.6L2164.5 522.9L2165.8 522.6L2167.0 522.3L2168.2 522.3L2169.5 522.0L2170.8 521.6L2172.0 522.3L2173.2 522.6L2174.5 522.4L2175.8 522.9L2177.0 523.0L2178.2 522.6L2179.5 523.0L2180.8 523.2L2182.0 522.5L2183.2 522.5L2184.5 522.7L2185.8 522.3L2187.0 522.2L2188.2 522.4L2189.5 521.8L2190.8 521.8L2192.0 522.3L2193.2 522.2L2194.5 521.8L2195.8 521.8L2197.0 522.3L2198.2 522.4L2199.5 522.1L2200.8 522.3L2202.0 522.2L2203.2 522.0L2204.5 522.7L2205.8 522.6L2207.0 522.1L2208.2 522.5L2209.5 522.6L2210.8 522.2L2212.0 522.4L2213.2 522.7L2214.5 522.1L2215.8 521.5L2217.0 521.9L2218.2 521.8L2219.5 521.8L2220.8 521.9L2222.0 522.2L2223.2 522.2L2224.5 522.1L2225.8 522.5L2227.0 522.2L2228.2 522.2L2229.5 522.8L2230.8 522.9L2232.0 522.2L2233.2 522.1L2234.5 522.0L2235.8 522.0L2237.0 522.5L2238.2 522.2L2239.5 521.8L2240.8 522.3L2242.0 522.1L2243.2 521.7L2244.5 521.4L2245.8 520.9L2247.0 520.8L2248.2 521.4L2249.5 521.1L2250.8 519.9L2252.0 519.4L2253.2 519.0L2254.5 518.8L2255.8 518.3L2257.0 518.1L2258.2 517.6L2259.5 516.9L2260.8 516.4L2262.0 515.8L2263.2 515.0L2264.5 514.6L2265.8 515.0L2267.0 515.0L2268.2 514.7L2269.5 515.4L2270.8 516.3L2272.0 516.5L2273.2 517.1L2274.5 517.7L2275.8 518.5L2277.0 518.8L2278.2 518.9L2279.5 519.8L2280.8 520.5L2282.0 520.7L2283.2 520.8L2284.5 521.0L2285.8 521.3L2287.0 522.0L2288.2 521.9L2289.5 522.1L2290.8 522.7L2292.0 522.2L2293.2 522.3L2294.5 522.0L2295.8 521.4L2297.0 521.4L2298.2 521.8L2299.5 522.1L2300.8 522.1L2302.0 522.2L2303.2 521.8L2304.5 521.9L2305.8 522.1L2307.0 521.8L2308.2 522.1L2309.5 521.9L2310.8 521.7L2312.0 521.7L2313.2 522.1L2314.5 522.5L2315.8 522.7L2317.0 522.3L2318.2 521.9L2319.5 521.9L2320.8 522.3L2322.0 522.0L2323.2 522.2L2324.5 522.6L2325.8 522.1L2327.0 522.3L2328.2 522.8L2329.5 522.8L2330.8 522.8L2332.0 522.7L2333.2 522.8L2334.5 523.1L2335.8 522.7L2337.0 522.8L2338.2 522.9L2339.5 522.5L2340.8 522.2L2342.0 522.1L2343.2 522.6L2344.5 522.3L2345.8 522.2L2347.0 522.7L2348.2 522.6L2349.5 521.9L2350.8 521.8L2352.0 522.6L2353.2 522.4L2354.5 522.2L2355.8 521.8L2357.0 521.9L2358.2 522.4L2359.5 522.5L2360.8 522.1L2362.0 522.1L2363.2 522.5L2364.5 522.6L2365.8 522.4L2367.0 522.0L2368.2 522.8L2369.5 522.8L2370.8 522.0L2372.0 522.1" stroke="#ff0080" stroke-width="7.6"/>

<g class="tick">
<text transform="translate(195.3 1727.2) scale(0.976 1)">20</text>
<text transform="translate(376.6 1727.2) scale(0.976 1)">25</text>
<text transform="translate(557.9 1727.2) scale(0.976 1)">30</text>
<text transform="translate(739.2 1727.2) scale(0.976 1)">35</text>
<text transform="translate(920.5 1727.2) scale(0.976 1)">40</text>
<text transform="translate(1101.8 1727.2) scale(0.976 1)">45</text>
<text transform="translate(1283.1 1727.2) scale(0.976 1)">50</text>
<text transform="translate(1464.4 1727.2) scale(0.976 1)">55</text>
<text transform="translate(1645.7 1727.2) scale(0.976 1)">60</text>
<text transform="translate(1827.0 1727.2) scale(0.976 1)">65</text>
<text transform="translate(2008.3 1727.2) scale(0.976 1)">70</text>
<text transform="translate(2189.6 1727.2) scale(0.976 1)">75</text>
<text transform="translate(2370.9 1727.2) scale(0.976 1)">80</text>
</g>

<text class="axis-title" style="font-size:79px" transform="translate(1253.8 1829) scale(0.979 1)">2-Theta</text>
<text class="axis-title" transform="translate(76.8 900.8) rotate(-90)">Intensity</text>

<g class="hkl">
<text x="606.6" y="1243.5">(100)</text>
<text x="709.2" y="1311.0">(002)</text>
<text x="863.6" y="1019.6">(101)</text>
<text x="1189.1" y="1428.2">(102)</text>
<text x="1528.8" y="1358.2">(110)</text>
<text x="1740.0" y="1376.8">(103)</text>
<text x="1852.8" y="1546.0">(200)</text>
<text x="1932.2" y="1423.0">(112)</text>
<text x="2035.0" y="1487.6">(201)</text>
<text x="2103.5" y="1553.6">(004)</text>
<text x="2264.9" y="1553.6">(202)</text>
</g>

<!-- legend -->
<g class="legend">
<rect x="1397.5" y="51.5" width="954" height="296" fill="none" stroke="#000" stroke-width="3"/>
<rect x="1437" y="110" width="177.3" height="2.6" fill="#ff80bf"/>
<rect x="1434.2" y="104.3" width="180.2" height="6.2" fill="#ff0080"/>
<rect x="1614" y="106" width="3" height="3" fill="#ff0080"/>
<rect x="1434.2" y="202.5" width="180.2" height="8.5" fill="#0000fe"/>
<rect x="1614" y="205" width="3" height="3" fill="#0000fe"/>
<rect x="1434.2" y="301" width="180.2" height="8.2" fill="#000"/>
<rect x="1614" y="303.5" width="3" height="3" fill="#000"/>
<text transform="translate(1633.6 134.3) scale(0.989 1)">Calcined</text>
<text transform="translate(1633.5 232.3) scale(0.987 1)">Extracted</text>
<text transform="translate(1631.7 330.3) scale(0.987 1)">ZnO (ICSD# 34477)</text>
</g>
</svg>
</body>
</html>
